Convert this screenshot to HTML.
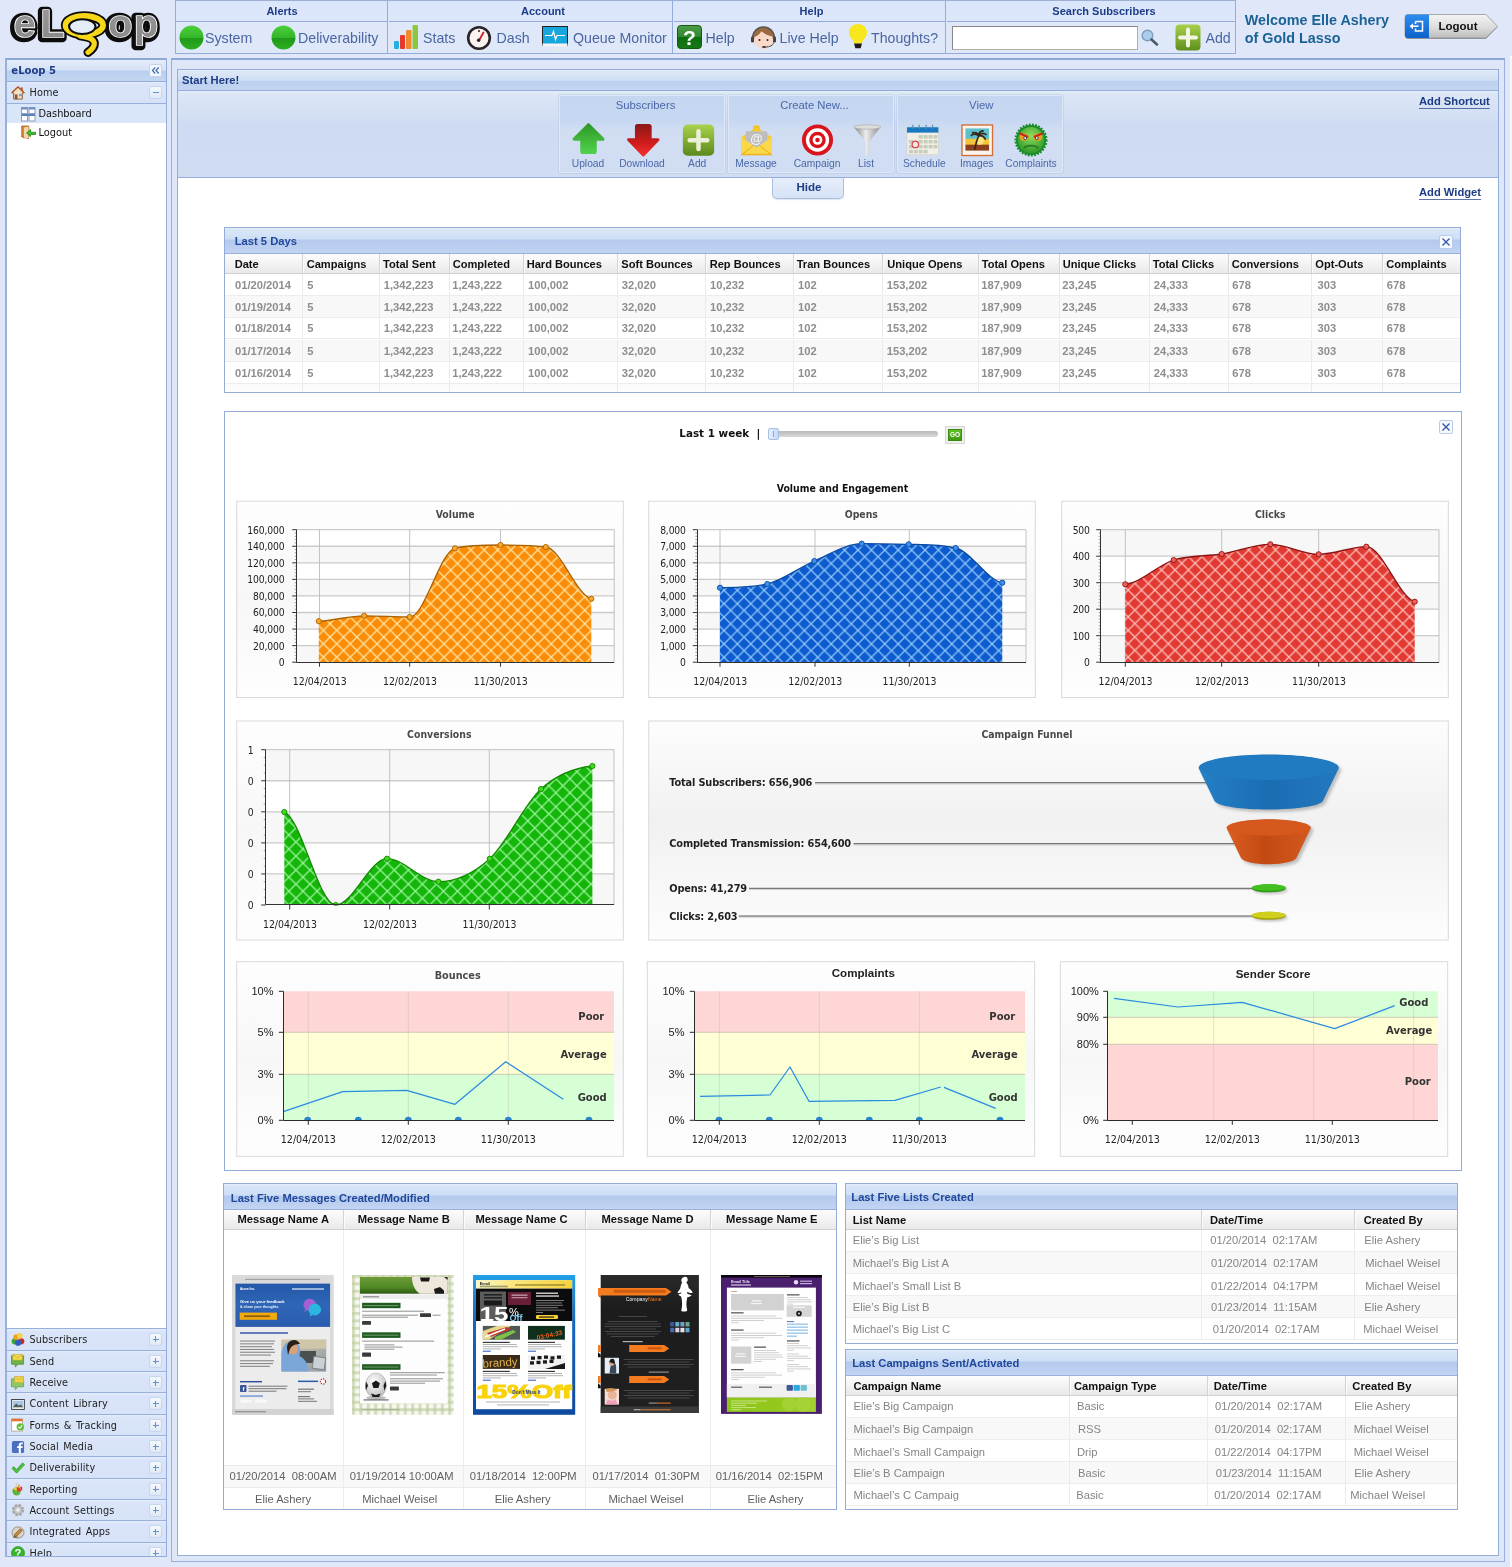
<!DOCTYPE html>
<html lang="en">
<head>
<meta charset="utf-8">
<title>eLoop 5 - Dashboard</title>
<style>
html,body{margin:0;padding:0}
body{width:1512px;height:1567px;overflow:hidden;position:relative;background:#e0e7f8;font-family:"Liberation Sans",sans-serif;font-size:11px;color:#222}
div,span,a,table,td,th,svg{box-sizing:border-box}
.a{position:absolute}
.tah{font-family:"DejaVu Sans Condensed","DejaVu Sans",sans-serif}
.ver{font-family:"DejaVu Sans","Liberation Sans",sans-serif}
svg{display:block;overflow:visible}
svg.a{position:absolute}
/* top menu */
#topmenu{left:175px;top:0;width:1061px;height:54px;background:linear-gradient(#dae6fb 0,#dde7fa 21px,#dfe8f9 22px,#dfe8f8 100%);border:1px solid #94acd9;border-top-color:#9db0d4}
#topmenu .hd{position:absolute;top:0;height:21px;line-height:21px;text-align:center;font-weight:bold;font-size:11px;color:#1d3c85;border-bottom:1px solid #94acd9}
#topmenu .sep{position:absolute;top:0;width:1px;height:52px;background:#94acd9}
.mi{position:absolute;top:27.700px;height:18px;line-height:18px;font-size:14.2px;color:#4b66a2;white-space:nowrap}
/* panels */
.phd{position:absolute;left:0;right:0;top:0;border-bottom:1px solid #93acd9;background:linear-gradient(#eaf1fb 0,#dde8f7 6%,#d0dff4 52%,#bdd0ef 54%,#c3d5f1 100%);font-weight:bold;font-size:11px;color:#1d3c85;white-space:nowrap}
</style>
</head>
<body>
<!-- ================= LOGO ================= -->
<svg class="a" style="left:0;top:0" width="172" height="58" viewBox="0 0 172 58">
  <defs>
    <linearGradient id="lgGrey" x1="0" y1="0" x2="0" y2="1"><stop offset="0" stop-color="#9a9a9a"/><stop offset="1" stop-color="#888"/></linearGradient>
  </defs>
  <g font-family="Liberation Sans, sans-serif" font-weight="bold" font-size="39.500" stroke-linejoin="round">
    <g fill="#0c0c0c" stroke="#0c0c0c" stroke-width="8.600" transform="translate(-1,1.100)">
      <text y="37"><tspan x="13.800">e</tspan><tspan x="40.500">L</tspan><tspan x="77" dy="-7" font-size="18">o</tspan><tspan x="108.300" dy="7">o</tspan><tspan x="134">p</tspan></text>
    </g>
    <g fill="url(#lgGrey)" stroke="#fff" stroke-width="1.700" paint-order="stroke">
      <text y="37"><tspan x="13.800">e</tspan><tspan x="40.500">L</tspan><tspan x="77" dy="-7" font-size="18">o</tspan><tspan x="108.300" dy="7">o</tspan><tspan x="134">p</tspan></text>
    </g>
  </g>
  <g fill="none" stroke-linecap="round" stroke-linejoin="round">
    <path d="M80 35.800C87.500 36.800 94 38.500 94.300 43.200 94.500 47 91.500 50 88 52.300" stroke="#0c0c0c" stroke-width="9.200"/>
    <ellipse cx="84.300" cy="25.300" rx="18.800" ry="9.300" stroke="#0c0c0c" stroke-width="9.400"/>
    <path d="M80 35.800C87.500 36.800 94 38.500 94.300 43.200 94.500 47 91.500 50 88 52.300" stroke="#f7d71a" stroke-width="5.200"/>
    <ellipse cx="84.300" cy="25.300" rx="18.800" ry="9.300" stroke="#f7d71a" stroke-width="5.800"/>
    <ellipse cx="82.300" cy="26.600" rx="13.200" ry="7.300" fill="#e4ebf9" stroke="#0c0c0c" stroke-width="2"/>
  </g>
</svg>

<!-- ================= TOP MENU ================= -->
<div id="topmenu" class="a">
  <div class="hd" style="left:0;width:212px">Alerts</div>
  <div class="hd" style="left:213px;width:284px;padding-left:24px">Account</div>
  <div class="hd" style="left:498px;width:272px;padding-left:3px">Help</div>
  <div class="hd" style="left:771px;width:288px;padding-left:26px">Search Subscribers</div>
  <div class="sep" style="left:211px"></div>
  <div class="sep" style="left:496px"></div>
  <div class="sep" style="left:769px"></div>

  <!-- alerts -->
  <svg class="a" style="left:3px;top:24px" width="25" height="25" viewBox="0 0 25 25"><defs><linearGradient id="gb1" x1="0" y1="0" x2="0" y2="1"><stop offset="0" stop-color="#4bd03c"/><stop offset=".5" stop-color="#35b52a"/><stop offset=".52" stop-color="#1f9a18"/><stop offset="1" stop-color="#2cae22"/></linearGradient></defs><circle cx="12.500" cy="12.500" r="12" fill="url(#gb1)"/></svg>
  <div class="mi" style="left:29px">System</div>
  <svg class="a" style="left:95px;top:24px" width="25" height="25" viewBox="0 0 25 25"><circle cx="12.500" cy="12.500" r="12" fill="url(#gb1)"/></svg>
  <div class="mi" style="left:122px">Deliverability</div>

  <!-- account -->
  <svg class="a" style="left:217px;top:23px" width="26" height="27" viewBox="0 0 26 27">
    <rect x="1" y="17" width="5" height="8" rx="1" fill="#23b1e4"/><rect x="7" y="11" width="5" height="14" rx="1" fill="#e8392f"/><rect x="13" y="6" width="5.500" height="19" rx="1" fill="#f08a2c"/><rect x="19.500" y="1" width="5.500" height="24" rx="1" fill="#8dc63f"/>
  </svg>
  <div class="mi" style="left:247px">Stats</div>
  <svg class="a" style="left:290px;top:24px" width="26" height="26" viewBox="0 0 26 26"><circle cx="13" cy="13" r="10.800" fill="#fbf3f0" stroke="#2a2224" stroke-width="2.600"/><path d="M13 15.500L17.500 7.500" stroke="#d0202a" stroke-width="1.800" stroke-linecap="round"/><circle cx="12.600" cy="15.300" r="1.700" fill="#2a2224"/><circle cx="13" cy="6" r="1" fill="#2a2224"/></svg>
  <div class="mi" style="left:320.500px">Dash</div>
  <svg class="a" style="left:366px;top:25px" width="26" height="25" viewBox="0 0 26 25"><rect x=".5" y=".5" width="25" height="19" fill="#17a7dc" stroke="#222" stroke-width="1"/><rect x=".5" y="17.500" width="25" height="3" fill="#f4f4f4"/><path d="M3 9.500h7l1.500-4 2 8 1.500-4h8" fill="none" stroke="#fff" stroke-width="1.200"/><rect x="9" y="22" width="8" height="1.500" fill="#e9e9e9"/></svg>
  <div class="mi" style="left:397px">Queue Monitor</div>

  <!-- help -->
  <svg class="a" style="left:501px;top:24.300px" width="25" height="24" viewBox="0 0 26 25"><defs><linearGradient id="gh1" x1="0" y1="0" x2="0" y2="1"><stop offset="0" stop-color="#4f9a4b"/><stop offset=".5" stop-color="#2f8a2c"/><stop offset=".52" stop-color="#0f6d10"/><stop offset="1" stop-color="#157a15"/></linearGradient></defs><rect x=".5" y=".5" width="25" height="24" rx="3.500" fill="url(#gh1)" stroke="#0b560c"/><text x="13" y="20.500" text-anchor="middle" font-family="Liberation Sans, sans-serif" font-weight="bold" font-size="22" fill="#fff">?</text></svg>
  <div class="mi" style="left:529.500px">Help</div>
  <svg class="a" style="left:575px;top:25px" width="25" height="24" viewBox="0 0 25 24"><path d="M2 13C1 5 6 .8 12.500.8S24 5 23 13z" fill="#9b6a3e"/><ellipse cx="12.500" cy="14" rx="9.500" ry="9" fill="#fbd9c8"/><path d="M3.500 11c3-1 6-3.500 7-6 2 2.500 7 5 11 5.500C21 5 17 2.500 12.500 2.500S4 5 3.500 11z" fill="#9b6a3e"/><circle cx="8.500" cy="14" r="1" fill="#222"/><circle cx="16.500" cy="14" r="1" fill="#222"/><path d="M1.500 12a11 11 0 0 1 22 0" fill="none" stroke="#555" stroke-width="1.300"/><rect x="0" y="10.500" width="3" height="6" rx="1.300" fill="#444"/><rect x="22" y="10.500" width="3" height="6" rx="1.300" fill="#444"/><path d="M22.500 16.500c0 3-4 4.500-8 4.500" fill="none" stroke="#444" stroke-width="1"/><ellipse cx="13" cy="21" rx="2" ry="1" fill="#333"/></svg>
  <div class="mi" style="left:603.500px">Live Help</div>
  <svg class="a" style="left:672px;top:22px" width="20" height="27" viewBox="0 0 20 27"><path d="M10 1C4.800 1 1 4.800 1 9.500c0 3 1.500 5 3 6.800 1.200 1.500 1.800 2.700 2 4.200h8c.2-1.500.8-2.700 2-4.200 1.500-1.800 3-3.800 3-6.800C19 4.800 15.200 1 10 1z" fill="#f8e71c"/><path d="M6 20.500h8l-1.300 4.800H7.300z" fill="#1c1c1c"/></svg>
  <div class="mi" style="left:695px">Thoughts?</div>

  <!-- search -->
  <div class="a" style="left:776px;top:25px;width:186px;height:24px;background:#fff;border:1px solid #b3aeae;border-top:1.500px solid #8c8686;border-left:1.500px solid #8c8686"></div>
  <svg class="a" style="left:965px;top:28px" width="18" height="17" viewBox="0 0 18 17"><circle cx="6.500" cy="6.500" r="5.300" fill="#a9cdea" stroke="#7f9db8" stroke-width="1.400"/><path d="M10.500 10.500l5.500 5" stroke="#4d5a68" stroke-width="2.600" stroke-linecap="round"/></svg>
  <svg class="a" style="left:999px;top:23px" width="26" height="27" viewBox="0 0 26 27"><defs><linearGradient id="ga1" x1="0" y1="0" x2="0" y2="1"><stop offset="0" stop-color="#a6cf4c"/><stop offset=".5" stop-color="#84b030"/><stop offset="1" stop-color="#5f8e1e"/></linearGradient></defs><rect x=".5" y=".5" width="25" height="26" rx="4" fill="url(#ga1)"/><path d="M13 5.500v16M5 13.500h16" stroke="#f1f6e4" stroke-width="4" stroke-linecap="round"/></svg>
  <div class="mi" style="left:1029.500px">Add</div>
</div>

<!-- welcome / logout -->
<div class="a" style="left:1244.800px;top:11px;width:160px;font-weight:bold;font-size:14.350px;line-height:18.300px;color:#1b6396;white-space:nowrap">Welcome Elle Ashery<br>of Gold Lasso</div>
<svg class="a" style="left:1403px;top:13px" width="98" height="28" viewBox="0 0 98 28">
  <defs>
    <linearGradient id="gl1" x1="0" y1="0" x2="0" y2="1"><stop offset="0" stop-color="#2f8df0"/><stop offset="1" stop-color="#0d62c8"/></linearGradient>
    <linearGradient id="gl2" x1="0" y1="0" x2="0" y2="1"><stop offset="0" stop-color="#f4f4f4"/><stop offset=".55" stop-color="#dcdcdc"/><stop offset="1" stop-color="#bcbcbc"/></linearGradient>
  </defs>
  <path d="M5 2.300h78l11.500 11.800L83 25.800H5a3 3 0 0 1-3-3V5.300a3 3 0 0 1 3-3z" fill="#2a2a2a" opacity=".55"/><path d="M5 1.500h78l11.500 11.800L83 25H5a3 3 0 0 1-3-3V4.500a3 3 0 0 1 3-3z" fill="url(#gl2)" stroke="#8a8a8a" stroke-width=".7"/>
  <path d="M5 1.500h21V25H5a3 3 0 0 1-3-3V4.500a3 3 0 0 1 3-3z" fill="url(#gl1)"/>
  <path d="M12.500 8.500h7v9.500h-7v-2.500M12.500 11V8.500" fill="none" stroke="#fff" stroke-width="1.500"/><path d="M15.500 13.200H9" stroke="#fff" stroke-width="1.600"/><path d="M6.500 13.200l3.500-3v6z" fill="#fff"/>
  <text x="55" y="17.300" text-anchor="middle" font-family="Liberation Sans, sans-serif" font-weight="bold" font-size="11.500" fill="#111">Logout</text>
</svg>
<!-- ================= SIDEBAR ================= -->
<style>
#side{left:5px;top:58px;width:162px;height:1499px;overflow:hidden;background:#fff;border:1px solid #93acd9;border-top:2px solid #8ba8d8;border-left:2px solid #98b0dc}
#side .row{position:absolute;left:0;right:0;height:22.300px;background:linear-gradient(#e6eefb 0,#dae5f9 2px,#d6e2f7 100%);border-top:1px solid #98b0dc;border-bottom:0;font-size:10.800px;color:#1d1d1d;white-space:nowrap}
#side .row span{position:absolute;left:22.500px;top:1px;line-height:20px;letter-spacing:.1px;word-spacing:1.200px}
#side .tool{position:absolute;right:4px;top:4px;width:13px;height:13px;border:1px solid #c6d6ee;border-radius:2px;background:linear-gradient(#f4f8fd,#dfe9f8)}
#side .tool:before{content:"";position:absolute;left:2.500px;top:5px;width:6px;height:1px;background:#6d8fc8}
#side .tool.plus:after{content:"";position:absolute;left:5px;top:2.500px;width:1px;height:6px;background:#6d8fc8}
#side .row svg{position:absolute;left:4px;top:3.500px;width:14px;height:14px}
#side .leaf{position:absolute;left:0;right:0;height:19.500px;font-size:10.900px;color:#111;white-space:nowrap}
#side .leaf span{position:absolute;left:31.500px;top:.3px;line-height:19px;letter-spacing:0}
#side .leaf svg{position:absolute;left:14px;top:2.500px}
</style>
<div id="side" class="a tah">
  <div class="phd" style="height:22px;border-bottom:1px solid #93acd9;background:linear-gradient(#e3ecf9 0,#d6e3f6 48%,#b9cfee 52%,#c3d6f1 100%)"><span class="a" style="left:4.300px;top:4.200px;line-height:14px;font-size:11.200px">eLoop 5</span>
    <div class="a" style="right:4px;top:4px;width:13px;height:13px;border:1px solid #c2d3ee;border-radius:2px;background:#f3f7fd"><svg width="11" height="11" viewBox="0 0 11 11"><path d="M5.200 2.500L2.500 5.500l2.700 3M8.700 2.500L6 5.500l2.700 3" fill="none" stroke="#3f6db5" stroke-width="1.200"/></svg></div>
  </div>
  <div class="row" style="top:22px;border-top:0;height:22px;border-bottom:1px solid #98b0dc"><svg width="15" height="15" viewBox="0 0 15 15"><path d="M7.500 1L.8 7.300h2V14h9.400V7.300h2z" fill="#f3e1c4" stroke="#8a5a2b" stroke-width="1"/><path d="M.8 7.300L7.500 1l6.700 6.300" fill="none" stroke="#b5532a" stroke-width="1.600"/><rect x="4" y="9" width="3" height="5" fill="#8a5a2b"/><rect x="8.500" y="8.500" width="3" height="2.500" fill="#7a9fd0"/><rect x="10.500" y="1.500" width="2" height="3.500" fill="#b5532a"/></svg><span style="left:22.500px;top:1.300px">Home</span><div class="tool"></div></div>
  <div class="leaf" style="top:44px;height:18.800px;background:#d9e5f8"><svg width="15" height="15" viewBox="0 0 15 15"><rect x=".5" y=".5" width="6" height="6" fill="#fff" stroke="#8d9dbd"/><rect x="8" y=".5" width="6" height="6" fill="#fff" stroke="#8d9dbd"/><rect x=".5" y="8" width="6" height="6" fill="#fff" stroke="#8d9dbd"/><rect x="8" y="8" width="6" height="6" fill="#fff" stroke="#8d9dbd"/><rect x=".5" y=".5" width="6" height="2" fill="#6d8fc6"/><rect x="8" y=".5" width="6" height="2" fill="#6d8fc6"/><rect x=".5" y="7" width="13.500" height="2" fill="#5b84b8"/></svg><span>Dashboard</span></div>
  <div class="leaf" style="top:62.300px"><svg width="15" height="15" viewBox="0 0 15 15"><path d="M.8 1h7v12.500l-7-1.500z" fill="#d98a3a" stroke="#9a5a1e" stroke-width=".8"/><path d="M3 2.500l4.500-1v12l-4.500-1z" fill="#f5d6a8"/><path d="M14.500 7.300H9.500V4.500L5.500 8l4 3.500V9.500h5z" fill="#3fbf2f" stroke="#1f8a17" stroke-width=".8"/></svg><span>Logout</span></div>

  <!-- accordion -->
  <div class="row" style="top:1267.900px"><svg width="15" height="15" viewBox="0 0 15 15"><circle cx="4" cy="10" r="3.300" fill="#3aa33a"/><circle cx="11" cy="10" r="3.300" fill="#c92a2a"/><circle cx="7.500" cy="11.500" r="3.300" fill="#2b5fc0"/><circle cx="5.500" cy="5.500" r="3" fill="#f0a020"/><circle cx="9.500" cy="4" r="3" fill="#f6d445"/></svg><span>Subscribers</span><div class="tool plus"></div></div>
  <div class="row" style="top:1289.800px"><svg width="15" height="15" viewBox="0 0 15 15"><path d="M.5 2h13v9h-6l-3 3v-3h-4z" fill="#6cb24a" stroke="#4f8f34" stroke-width=".8"/><rect x="2" y=".5" width="10" height="6" fill="#f4d94a" stroke="#c9a82a" stroke-width=".6"/><path d="M2 .5l5 3.800 5-3.800" fill="none" stroke="#c9a82a" stroke-width=".7"/></svg><span>Send</span><div class="tool plus"></div></div>
  <div class="row" style="top:1311.100px"><svg width="15" height="15" viewBox="0 0 15 15"><path d="M.5 3h13v8.500h-6l-3 3v-3h-4z" fill="#8dc86a" stroke="#5fa040" stroke-width=".8"/><rect x="4" y=".5" width="9.500" height="6.500" fill="#f3d648" stroke="#c9a82a" stroke-width=".6"/><path d="M4 .5l4.800 3.800 4.700-3.800" fill="none" stroke="#c9a82a" stroke-width=".7"/></svg><span>Receive</span><div class="tool plus"></div></div>
  <div class="row" style="top:1332.400px"><svg width="15" height="15" viewBox="0 0 15 15"><rect x=".7" y="2.700" width="13.600" height="10.600" fill="#f4f7fa" stroke="#3a3a3a" stroke-width="1"/><rect x="2" y="4" width="11" height="7" fill="#a9c6e6"/><path d="M2 11l3.500-4 3 2.500 2-1.500 2.500 3z" fill="#4f5f55"/></svg><span>Content Library</span><div class="tool plus"></div></div>
  <div class="row" style="top:1353.700px"><svg width="15" height="15" viewBox="0 0 15 15"><rect x=".7" y="1" width="11.500" height="13" fill="#fff" stroke="#b9a08a" stroke-width=".9"/><rect x=".7" y="1" width="11.500" height="2.500" fill="#e8702a"/><circle cx="10" cy="9.500" r="4" fill="#5fbf3a"/><path d="M8 9.500l1.500 1.500 2.500-3" fill="none" stroke="#fff" stroke-width="1.200"/></svg><span>Forms &amp; Tracking</span><div class="tool plus"></div></div>
  <div class="row" style="top:1375px"><svg width="15" height="15" viewBox="0 0 15 15"><rect x="1" y="1" width="13" height="13" rx="2" fill="#4a6fc2"/><path d="M10.500 14V8.700h1.800l.3-2h-2.100V5.500c0-.7.300-1 1-1h1.100V2.700c-.3 0-.9-.1-1.600-.1-1.700 0-2.700 1-2.700 2.700v1.400H6.500v2h1.800V14z" fill="#fff"/></svg><span>Social Media</span><div class="tool plus"></div></div>
  <div class="row" style="top:1396.300px"><svg width="15" height="15" viewBox="0 0 15 15"><path d="M1 8l2-2 3 3 6.500-7 2 2L6 13z" fill="#4cc23c" stroke="#2a8f20" stroke-width=".7"/></svg><span>Deliverability</span><div class="tool plus"></div></div>
  <div class="row" style="top:1417.600px"><svg width="15" height="15" viewBox="0 0 15 15"><rect x="5" y="1" width="2" height="8" fill="#d0d0d0"/><rect x="7.500" y="3" width="2" height="6" fill="#f0a020"/><rect x="10" y="5" width="2" height="4" fill="#d33"/><circle cx="6" cy="10" r="4.500" fill="#5fb23a"/><path d="M6 10V5.500A4.500 4.500 0 0 1 10.500 10z" fill="#e8382a"/><path d="M6 10V5.500A4.500 4.500 0 0 0 2.500 7.300z" fill="#f4cf3a"/></svg><span>Reporting</span><div class="tool plus"></div></div>
  <div class="row" style="top:1438.900px"><svg width="15" height="15" viewBox="0 0 15 15"><circle cx="7.500" cy="7.500" r="5" fill="none" stroke="#a9a9a9" stroke-width="3.200" stroke-dasharray="2.600 1.300"/><circle cx="7.500" cy="7.500" r="4.300" fill="#c9c9c9" stroke="#9a9a9a" stroke-width=".8"/><circle cx="7.500" cy="7.500" r="1.800" fill="#eef2f8"/></svg><span>Account Settings</span><div class="tool plus"></div></div>
  <div class="row" style="top:1460.200px"><svg width="15" height="15" viewBox="0 0 15 15"><ellipse cx="7.500" cy="8" rx="6.500" ry="6" fill="#d9d2c6" stroke="#8a7f70" stroke-width=".8"/><path d="M4 10l6-6 2 2-6 6-2.500.5z" fill="#c98a3a" stroke="#6a4a20" stroke-width=".7"/><path d="M2 13h5" stroke="#6a4a20"/></svg><span>Integrated Apps</span><div class="tool plus"></div></div>
  <div class="row" style="top:1481.500px;height:17px;border-bottom:0"><svg width="15" height="15" viewBox="0 0 15 15"><circle cx="7.500" cy="7.500" r="7" fill="#35b52a" stroke="#1f8a17" stroke-width=".6"/><text x="7.500" y="12" text-anchor="middle" font-family="Liberation Sans, sans-serif" font-weight="bold" font-size="12" fill="#fff">?</text></svg><span>Help</span><div class="tool plus"></div></div>
</div>
<!-- ================= MAIN PANEL ================= -->
<style>
#outer{left:171px;top:58px;width:1334px;height:1504px;border:1px solid #98b0dc;border-top:2px solid #8ba8d8;background:#dde7f8}
#inner{left:177px;top:69px;width:1322px;height:1487px;border:1px solid #93acd9;background:#fff}
#sc{left:0;top:21px;width:1320px;height:87px;border-bottom:1px solid #93acd9;background:linear-gradient(#e3ecf9 0,#dbe6f6 4%,#d3dff3 30%,#cedbf2 38%,#cfdcf2 100%)}
.grp{position:absolute;top:4px;height:78px;border:1px solid #dfe8f6;border-radius:2px;background:linear-gradient(#c4d6f0 0,#c6d7f1 30%,#d0ddf3 45%,#d0ddf3 100%);box-shadow:0 0 0 1px rgba(170,190,225,.35)}
.grp .t{position:absolute;left:0;right:0;top:2.200px;padding-left:5px;text-align:center;font-size:11.300px;line-height:14px;color:#4a67a8}
.grp .l{position:absolute;top:61.500px;font-size:10.250px;line-height:12px;color:#4a67a8;white-space:nowrap;transform:translateX(-50%)}
.grp svg{position:absolute}
.lnk{font-weight:bold;font-size:11.200px;color:#1d3c85;text-decoration:underline;text-decoration-thickness:1px;text-decoration-color:rgba(29,60,133,.7);text-underline-offset:2.500px;white-space:nowrap;line-height:13px}
</style>
<div class="a" style="left:1510px;top:56px;width:2px;height:1511px;background:#f4f7fc"></div>
<div id="outer" class="a"></div>
<div id="inner" class="a">
  <div class="phd" style="height:21px"><span class="a" style="left:4px;top:4px;line-height:13px;font-size:11.200px">Start Here!</span></div>
  <div id="sc" class="a">
    <div class="a lnk" style="left:1241px;top:4px">Add Shortcut</div>
    <!-- Subscribers group -->
    <div class="grp" style="left:381px;width:166px">
      <div class="t" style="padding-left:7px">Subscribers</div>
      <svg style="left:11.300px;top:25.800px" width="35" height="33.300" viewBox="0 0 34 32"><defs><linearGradient id="gup" x1="0" y1="0" x2="0" y2="1"><stop offset="0" stop-color="#2f9a2a"/><stop offset="1" stop-color="#4fd04a"/></linearGradient></defs><path d="M17 2.500L3 16.500h7.500V28.500a1 1 0 0 0 1 1h11a1 1 0 0 0 1-1V16.500H31z" fill="url(#gup)" stroke="url(#gup)" stroke-width="3" stroke-linejoin="round"/></svg>
      <div class="l" style="left:28px">Upload</div>
      <svg style="left:64.800px;top:26.800px" width="36.600" height="34.500" viewBox="0 0 34 33"><defs><linearGradient id="gdn" x1="0" y1="0" x2="0" y2="1"><stop offset="0" stop-color="#8f1818"/><stop offset=".6" stop-color="#d01c1c"/><stop offset="1" stop-color="#f03030"/></linearGradient></defs><path d="M17 30.500L3 16h7.500V3.500a1 1 0 0 1 1-1h11a1 1 0 0 1 1 1V16H31z" fill="url(#gdn)" stroke="url(#gdn)" stroke-width="3" stroke-linejoin="round"/></svg>
      <div class="l" style="left:82px">Download</div>
      <svg style="left:121.500px;top:27.800px" width="33" height="32.300" viewBox="0 0 33 33"><defs><linearGradient id="gad" x1="0" y1="0" x2="0" y2="1"><stop offset="0" stop-color="#a9d24e"/><stop offset=".55" stop-color="#7fa92f"/><stop offset="1" stop-color="#5a8a1e"/></linearGradient></defs><rect x=".5" y=".5" width="32" height="32" rx="5" fill="url(#gad)"/><path d="M16.500 7.500v18M7.500 16.500h18" stroke="#e9f0d6" stroke-width="4.600" stroke-linecap="round"/></svg>
      <div class="l" style="left:137.200px">Add</div>
    </div>
    <!-- Create New group -->
    <div class="grp" style="left:550px;width:166px">
      <div class="t" style="padding-left:7px">Create New...</div>
      <svg style="left:10.500px;top:27.500px" width="33" height="32.500" viewBox="0 1 34 32"><circle cx="17" cy="5" r="3.500" fill="#f4c21a"/><path d="M1.500 14L17 3l15.500 11v18h-31z" fill="#f6c92e"/><path d="M6 8h22v16H6z" fill="#c9c9c9"/><path d="M6 8h22v9L17 24 6 17z" fill="#bdbdbd"/><text x="17" y="19.500" text-anchor="middle" font-family="Liberation Sans, sans-serif" font-weight="bold" font-size="13" fill="#f4f4f4">@</text><path d="M1.500 14L17 25l15.500-11v18h-31z" fill="#fbd84a"/><path d="M1.500 32L14 22.500M32.500 32L20 22.500" stroke="#e8a91a" stroke-width="1"/><path d="M1.500 31h31v1.500h-31z" fill="#f2b01e"/></svg>
      <div class="l" style="left:27px">Message</div>
      <svg style="left:71.500px;top:27.500px" width="33" height="33" viewBox="0 0 34 34"><circle cx="17" cy="16.500" r="16" fill="#d9141c"/><circle cx="17" cy="16.500" r="12" fill="#fff"/><circle cx="17" cy="16.500" r="8.500" fill="#d9141c"/><circle cx="17" cy="16.500" r="5" fill="#fff"/><circle cx="17" cy="16.500" r="2.300" fill="#d9141c"/></svg>
      <div class="l" style="left:88px">Campaign</div>
      <svg style="left:124px;top:28.300px" width="28.500" height="32" viewBox="0 0 30 33"><defs><linearGradient id="gfn" x1="0" y1="0" x2="1" y2="0"><stop offset="0" stop-color="#808080"/><stop offset=".45" stop-color="#ededed"/><stop offset="1" stop-color="#8a8a8a"/></linearGradient></defs><path d="M.8 2.500h28.400L17 18.500v12.500l-4 1.500V18.500z" fill="url(#gfn)"/><ellipse cx="15" cy="2.800" rx="14.200" ry="2.300" fill="#dedede" stroke="#b0b0b0" stroke-width=".8"/></svg>
      <div class="l" style="left:137px">List</div>
    </div>
    <!-- View group -->
    <div class="grp" style="left:719px;width:166px">
      <div class="t" style="padding-left:2.500px">View</div>
      <svg style="left:8.300px;top:27.500px" width="33.400" height="32" viewBox="0 1 34 32"><rect x="1" y="4" width="32" height="28" rx="1.500" fill="#f2efe8" stroke="#d8d4ca" stroke-width=".8"/><rect x="1" y="4" width="32" height="5.500" fill="#1878c0"/><path d="M7 1.500v4M13.500 1.500v4M20.500 1.500v4M27 1.500v4" stroke="#5a8fbf" stroke-width="1.200"/><g fill="#c6cdb8"><rect x="13" y="12" width="4" height="3.500"/><rect x="18" y="12" width="4" height="3.500"/><rect x="23" y="12" width="4" height="3.500"/><rect x="28" y="12" width="4" height="3.500"/><rect x="3" y="17" width="4" height="3.500"/><rect x="13" y="17" width="4" height="3.500"/><rect x="18" y="17" width="4" height="3.500"/><rect x="23" y="17" width="4" height="3.500"/><rect x="28" y="17" width="4" height="3.500"/><rect x="3" y="22" width="4" height="3.500"/><rect x="13" y="22" width="4" height="3.500"/><rect x="18" y="22" width="4" height="3.500"/><rect x="23" y="22" width="4" height="3.500"/><rect x="28" y="22" width="4" height="3.500"/><rect x="3" y="27" width="4" height="3.500"/><rect x="8" y="27" width="4" height="3.500"/><rect x="13" y="27" width="4" height="3.500"/><rect x="18" y="27" width="4" height="3.500"/></g><circle cx="9.500" cy="21.500" r="3.300" fill="#f7e6e2" stroke="#d0454a" stroke-width="1.300"/></svg>
      <div class="l" style="left:26.300px">Schedule</div>
      <svg style="left:62.500px;top:27.800px" width="32.500" height="32.500" viewBox="0 0 33 33"><rect x="1" y="1" width="31" height="31" fill="#fbf4ec" stroke="#d2703a" stroke-width="1.400"/><rect x="4.500" y="4.500" width="24" height="11" fill="#5ec0cf"/><rect x="4.500" y="15" width="24" height="7" fill="#f4c43a"/><rect x="4.500" y="21" width="24" height="6" fill="#8a3f1e"/><circle cx="19" cy="17" r="4" fill="#fbe27a"/><path d="M14 26c1-6 2-10 4-14M18 12c-3-2-6-2-8 0M18 12c-1-3-4-4-7-3M18 12c2-3 5-3 8-1M18 12c3-1 6 1 7 4M18 12c0-3 2-5 5-5" fill="none" stroke="#3a2414" stroke-width="1.700"/></svg>
      <div class="l" style="left:78.700px">Images</div>
      <svg style="left:115.500px;top:26.700px" width="34" height="34" viewBox="0 0 35 35"><defs><radialGradient id="gcm" cx=".5" cy=".35" r=".65"><stop offset="0" stop-color="#8fdc5a"/><stop offset="1" stop-color="#2f9a2a"/></radialGradient></defs><circle cx="17.500" cy="17.500" r="15.500" fill="#1f8f2a" stroke="#1a8a2a" stroke-width="3" stroke-dasharray="1.800 1.400"/><circle cx="17.500" cy="17.500" r="13.500" fill="url(#gcm)"/><ellipse cx="10.500" cy="14.500" rx="4.500" ry="3.800" fill="#f2a020"/><ellipse cx="24.500" cy="14.500" rx="4.500" ry="3.800" fill="#f2a020"/><path d="M5.500 10.500l9 4M29.500 10.500l-9 4" stroke="#c9281e" stroke-width="2.200"/><circle cx="11.500" cy="15.500" r="1.500" fill="#fff" stroke="#222" stroke-width=".8"/><circle cx="23.500" cy="15.500" r="1.500" fill="#fff" stroke="#222" stroke-width=".8"/><path d="M10 26c3-3.500 12-3.500 15 0" fill="none" stroke="#2a7a22" stroke-width="1.800"/></svg>
      <div class="l" style="left:133px">Complaints</div>
    </div>
  </div>
  <!-- hide tab / add widget -->
  <div class="a" style="left:594px;top:108px;width:72px;height:21px;border:1px solid #a9bfe4;border-top:0;border-radius:0 0 5px 5px;background:linear-gradient(#e6eefa,#d6e2f6);text-align:center;padding-left:2px;font-weight:bold;font-size:11.600px;line-height:18.500px;color:#1d3c85;box-shadow:0 1px 1px rgba(120,140,180,.25)">Hide</div>
  <div class="a lnk" style="left:1241px;top:115.500px">Add Widget</div>
<!-- ================= LAST 5 DAYS ================= -->
<style>
.wg{position:absolute;border:1px solid #93acd9;background:#fff;overflow:hidden}
.wg .phd{background:linear-gradient(#e4edfa 0,#d9e6f8 8%,#cddef5 44%,#b4caee 48%,#bccff0 80%,#c3d5f2 100%);color:#20489a;border-bottom:1px solid #98b0dc}
.gh{position:absolute;left:0;right:0;height:20.500px;background:linear-gradient(#fdfdfd 0,#f4f4f4 45%,#e9e9e9 100%);border-bottom:1px solid #d0d0d0}
.gh b{position:absolute;top:0;line-height:20.500px;font-size:11.100px;color:#111;white-space:nowrap}
.gh i,.gr i{position:absolute;top:0;bottom:0;width:1px;background:#ebebeb}
.gh i{background:#d4d4d4;box-shadow:1px 0 0 #fbfbfb}
.gr{position:absolute;left:0;right:0;border-bottom:1px solid #ededed;background:#fff}
.gr.alt{background:#f8f8f8}
.gr span{position:absolute;top:.8px;font-size:11.200px;color:#838383;white-space:nowrap}
.gr.b5 span{font-weight:bold;color:#8e8e8e}
.xbtn{position:absolute;width:14px;height:14px;border:1px solid #b9cbea;border-radius:2px;background:#f6f9fe}
</style>
<div class="wg" style="left:46.2px;top:157px;width:1237px;height:166.2px">
<div class="phd" style="height:25.6px"><span class="a" style="left:9.5px;top:6.2px;line-height:14px;font-size:11.200px">Last 5 Days</span>
<div class="xbtn" style="left:1214.3px;top:6.5px"><svg width="12" height="12" viewBox="0 0 12 12"><path d="M2.500 2.500l7 7M9.500 2.500l-7 7" stroke="#2f55a4" stroke-width="1.300"/></svg></div></div>
<div class="gh" style="top:25.6px">
<b style="left:9.5px">Date</b>
<i style="left:77px"></i>
<b style="left:81.5px">Campaigns</b>
<i style="left:154px"></i>
<b style="left:157.8px">Total Sent</b>
<i style="left:224px"></i>
<b style="left:227.5px">Completed</b>
<i style="left:298.1px"></i>
<b style="left:301.5px">Hard Bounces</b>
<i style="left:392.1px"></i>
<b style="left:396.1px">Soft Bounces</b>
<i style="left:480.1px"></i>
<b style="left:484.5px">Rep Bounces</b>
<i style="left:568.1px"></i>
<b style="left:571.5px">Tran Bounces</b>
<i style="left:657.1px"></i>
<b style="left:662.1px">Unique Opens</b>
<i style="left:752.8px"></i>
<b style="left:756.5px">Total Opens</b>
<i style="left:833.8px"></i>
<b style="left:837.5px">Unique Clicks</b>
<i style="left:924.1px"></i>
<b style="left:927.5px">Total Clicks</b>
<i style="left:1003.1px"></i>
<b style="left:1006.5px">Conversions</b>
<i style="left:1086.1px"></i>
<b style="left:1090.1px">Opt-Outs</b>
<i style="left:1157.3px"></i>
<b style="left:1161px">Complaints</b>
</div>
<div class="gr b5" style="top:45.9px;height:21.7px;line-height:21.7px">
<span style="left:9.8px">01/20/2014</span>
<i style="left:77px"></i>
<span style="left:82px">5</span>
<i style="left:154px"></i>
<span style="left:158.5px">1,342,223</span>
<i style="left:224px"></i>
<span style="left:227.1px">1,243,222</span>
<i style="left:298.1px"></i>
<span style="left:302.8px">100,002</span>
<i style="left:392.1px"></i>
<span style="left:396.5px">32,020</span>
<i style="left:480.1px"></i>
<span style="left:484.8px">10,232</span>
<i style="left:568.1px"></i>
<span style="left:572.8px">102</span>
<i style="left:657.1px"></i>
<span style="left:661.5px">153,202</span>
<i style="left:752.8px"></i>
<span style="left:756.1px">187,909</span>
<i style="left:833.8px"></i>
<span style="left:837.1px">23,245</span>
<i style="left:924.1px"></i>
<span style="left:928.5px">24,333</span>
<i style="left:1003.1px"></i>
<span style="left:1007px">678</span>
<i style="left:1086.1px"></i>
<span style="left:1092.3px">303</span>
<i style="left:1157.3px"></i>
<span style="left:1161.5px">678</span>
</div>
<div class="gr b5 alt" style="top:67.6px;height:22px;line-height:22px">
<span style="left:9.8px">01/19/2014</span>
<i style="left:77px"></i>
<span style="left:82px">5</span>
<i style="left:154px"></i>
<span style="left:158.5px">1,342,223</span>
<i style="left:224px"></i>
<span style="left:227.1px">1,243,222</span>
<i style="left:298.1px"></i>
<span style="left:302.8px">100,002</span>
<i style="left:392.1px"></i>
<span style="left:396.5px">32,020</span>
<i style="left:480.1px"></i>
<span style="left:484.8px">10,232</span>
<i style="left:568.1px"></i>
<span style="left:572.8px">102</span>
<i style="left:657.1px"></i>
<span style="left:661.5px">153,202</span>
<i style="left:752.8px"></i>
<span style="left:756.1px">187,909</span>
<i style="left:833.8px"></i>
<span style="left:837.1px">23,245</span>
<i style="left:924.1px"></i>
<span style="left:928.5px">24,333</span>
<i style="left:1003.1px"></i>
<span style="left:1007px">678</span>
<i style="left:1086.1px"></i>
<span style="left:1092.3px">303</span>
<i style="left:1157.3px"></i>
<span style="left:1161.5px">678</span>
</div>
<div class="gr b5" style="top:89.6px;height:21.9px;line-height:21.9px">
<span style="left:9.8px">01/18/2014</span>
<i style="left:77px"></i>
<span style="left:82px">5</span>
<i style="left:154px"></i>
<span style="left:158.5px">1,342,223</span>
<i style="left:224px"></i>
<span style="left:227.1px">1,243,222</span>
<i style="left:298.1px"></i>
<span style="left:302.8px">100,002</span>
<i style="left:392.1px"></i>
<span style="left:396.5px">32,020</span>
<i style="left:480.1px"></i>
<span style="left:484.8px">10,232</span>
<i style="left:568.1px"></i>
<span style="left:572.8px">102</span>
<i style="left:657.1px"></i>
<span style="left:661.5px">153,202</span>
<i style="left:752.8px"></i>
<span style="left:756.1px">187,909</span>
<i style="left:833.8px"></i>
<span style="left:837.1px">23,245</span>
<i style="left:924.1px"></i>
<span style="left:928.5px">24,333</span>
<i style="left:1003.1px"></i>
<span style="left:1007px">678</span>
<i style="left:1086.1px"></i>
<span style="left:1092.3px">303</span>
<i style="left:1157.3px"></i>
<span style="left:1161.5px">678</span>
</div>
<div class="gr b5 alt" style="top:111.5px;height:22.1px;line-height:22.1px">
<span style="left:9.8px">01/17/2014</span>
<i style="left:77px"></i>
<span style="left:82px">5</span>
<i style="left:154px"></i>
<span style="left:158.5px">1,342,223</span>
<i style="left:224px"></i>
<span style="left:227.1px">1,243,222</span>
<i style="left:298.1px"></i>
<span style="left:302.8px">100,002</span>
<i style="left:392.1px"></i>
<span style="left:396.5px">32,020</span>
<i style="left:480.1px"></i>
<span style="left:484.8px">10,232</span>
<i style="left:568.1px"></i>
<span style="left:572.8px">102</span>
<i style="left:657.1px"></i>
<span style="left:661.5px">153,202</span>
<i style="left:752.8px"></i>
<span style="left:756.1px">187,909</span>
<i style="left:833.8px"></i>
<span style="left:837.1px">23,245</span>
<i style="left:924.1px"></i>
<span style="left:928.5px">24,333</span>
<i style="left:1003.1px"></i>
<span style="left:1007px">678</span>
<i style="left:1086.1px"></i>
<span style="left:1092.3px">303</span>
<i style="left:1157.3px"></i>
<span style="left:1161.5px">678</span>
</div>
<div class="gr b5" style="top:133.6px;height:22px;line-height:22px">
<span style="left:9.8px">01/16/2014</span>
<i style="left:77px"></i>
<span style="left:82px">5</span>
<i style="left:154px"></i>
<span style="left:158.5px">1,342,223</span>
<i style="left:224px"></i>
<span style="left:227.1px">1,243,222</span>
<i style="left:298.1px"></i>
<span style="left:302.8px">100,002</span>
<i style="left:392.1px"></i>
<span style="left:396.5px">32,020</span>
<i style="left:480.1px"></i>
<span style="left:484.8px">10,232</span>
<i style="left:568.1px"></i>
<span style="left:572.8px">102</span>
<i style="left:657.1px"></i>
<span style="left:661.5px">153,202</span>
<i style="left:752.8px"></i>
<span style="left:756.1px">187,909</span>
<i style="left:833.8px"></i>
<span style="left:837.1px">23,245</span>
<i style="left:924.1px"></i>
<span style="left:928.5px">24,333</span>
<i style="left:1003.1px"></i>
<span style="left:1007px">678</span>
<i style="left:1086.1px"></i>
<span style="left:1092.3px">303</span>
<i style="left:1157.3px"></i>
<span style="left:1161.5px">678</span>
</div>
<div class="gr" style="top:155.6px;height:10px;border-bottom:0;background:linear-gradient(#f9f9f9,#fff)">
<i style="left:77px"></i>
<i style="left:154px"></i>
<i style="left:224px"></i>
<i style="left:298.1px"></i>
<i style="left:392.1px"></i>
<i style="left:480.1px"></i>
<i style="left:568.1px"></i>
<i style="left:657.1px"></i>
<i style="left:752.8px"></i>
<i style="left:833.8px"></i>
<i style="left:924.1px"></i>
<i style="left:1003.1px"></i>
<i style="left:1086.1px"></i>
<i style="left:1157.3px"></i>
</div>
</div>
<!-- ================= CHARTS WIDGET ================= -->
<div class="wg" style="left:46.3px;top:341.3px;width:1237.7px;height:759.4px;overflow:visible"></div>
<svg width="0" height="0" class="a"><defs><linearGradient id="cbg" x1="0" y1="0" x2="0" y2="1"><stop offset="0" stop-color="#fefefe"/><stop offset=".5" stop-color="#f7f7f7"/><stop offset="1" stop-color="#fefefe"/></linearGradient></defs></svg>
<div class="a ver" style="left:501.3px;top:357px;font-weight:bold;font-size:10.400px;line-height:13px;color:#111;white-space:pre">Last 1 week  |</div>
<div class="a" style="left:590.3px;top:360.8px;width:170px;height:6px;border-radius:3px;background:linear-gradient(#b9b9b9,#d8d8d8);"></div>
<div class="a" style="left:589.5px;top:357.5px;width:11.500px;height:12px;border:1px solid #a9c0e6;border-radius:2px;background:linear-gradient(90deg,#e6effb,#c6d9f5)"><div style="margin:2px 0 0 4.500px;width:1px;height:6px;background:#8fa9d6"></div></div>
<div class="a" style="left:767px;top:355.5px;width:20px;height:18px;border:1px solid #d6d6d6;background:#eee;padding:2px"><div style="width:14px;height:12px;background:linear-gradient(#5cc425,#3e9a10);border:1px solid #3a8a10;color:#fff;font-weight:bold;font-size:6.500px;line-height:10px;text-align:center">GO</div></div>
<div class="xbtn" style="left:1260.5px;top:350px"><svg width="12" height="12" viewBox="0 0 12 12"><path d="M2.500 2.500l7 7M9.500 2.500l-7 7" stroke="#2f55a4" stroke-width="1.300"/></svg></div>
<div class="a tah" style="left:564.5px;top:412px;width:200px;text-align:center;font-weight:bold;font-size:10.400px;line-height:13px;color:#111;white-space:nowrap">Volume and Engagement</div>
<svg class="a" style="left:57px;top:430px" width="391" height="200" viewBox="235 500 391 200" >
<defs><pattern id="hv" width="13.4" height="13.4" patternUnits="userSpaceOnUse" x="484.2" y="563.4"><rect width="13.4" height="13.4" fill="#fb8c08"/><path d="M-1 -1L14.4 14.4" stroke="#fff3b8" stroke-opacity="0.8" stroke-width="1.400" fill="none"/><path d="M-1 14.4L14.4 -1" stroke="#fff3b8" stroke-opacity="0.8" stroke-width="1.400" fill="none"/></pattern><clipPath id="kv"><rect x="290.7" y="523.7" width="329.5" height="138.5"/></clipPath></defs>
<rect x="236.7" y="501.2" width="386.6" height="196.3" fill="url(#cbg)" stroke="#d9d9d9" stroke-width="1"/>
<text x="455.2" y="517.9" text-anchor="middle" font-family="DejaVu Sans Condensed, DejaVu Sans, sans-serif" font-weight="bold" font-size="10.400" fill="#4a4a4a">Volume</text>
<rect x="296.7" y="529.7" width="317.5" height="132.5" fill="#fff"/>
<rect x="296.7" y="645.64" width="317.5" height="16.56" fill="#f7f7f7"/>
<rect x="296.7" y="612.51" width="317.5" height="16.56" fill="#f7f7f7"/>
<rect x="296.7" y="579.39" width="317.5" height="16.56" fill="#f7f7f7"/>
<rect x="296.7" y="546.26" width="317.5" height="16.56" fill="#f7f7f7"/>
<path d="M296.7 529.7H614.2M296.7 546.26H614.2M296.7 562.83H614.2M296.7 579.39H614.2M296.7 595.95H614.2M296.7 612.51H614.2M296.7 629.08H614.2M296.7 645.64H614.2" stroke="#cbcbcb" stroke-width="1.300" fill="none"/>
<path d="M319.5 529.7V662.2M409.7 529.7V662.2M500.5 529.7V662.2M614.2 529.7V662.2" stroke="#bcbcbc" stroke-width=".9" fill="none"/>
<path d="M318.8 621.2C333.93 620.84 349.07 615.8 364.2 615.8C379.37 615.8 394.53 617 409.7 617C424.8 617 439.9 551.59 455 548.3C470.17 545 485.33 545 500.5 545C515.6 545 530.7 545 545.8 547C560.97 549.01 576.13 594.48 591.3 598.8L591.3 662.2L318.8 662.2Z" fill="url(#hv)"/>
<path d="M318.8 621.2C333.93 620.84 349.07 615.8 364.2 615.8C379.37 615.8 394.53 617 409.7 617C424.8 617 439.9 551.59 455 548.3C470.17 545 485.33 545 500.5 545C515.6 545 530.7 545 545.8 547C560.97 549.01 576.13 594.48 591.3 598.8" fill="none" stroke="#a86200" stroke-width="1.300"/>
<g clip-path="url(#kv)">
<circle cx="318.8" cy="621.2" r="2.600" fill="#ffa62a" stroke="#a86200" stroke-width=".9"/>
<circle cx="364.2" cy="615.8" r="2.600" fill="#ffa62a" stroke="#a86200" stroke-width=".9"/>
<circle cx="409.7" cy="617" r="2.600" fill="#ffa62a" stroke="#a86200" stroke-width=".9"/>
<circle cx="455" cy="548.3" r="2.600" fill="#ffa62a" stroke="#a86200" stroke-width=".9"/>
<circle cx="500.5" cy="545" r="2.600" fill="#ffa62a" stroke="#a86200" stroke-width=".9"/>
<circle cx="545.8" cy="547" r="2.600" fill="#ffa62a" stroke="#a86200" stroke-width=".9"/>
<circle cx="591.3" cy="598.8" r="2.600" fill="#ffa62a" stroke="#a86200" stroke-width=".9"/>
</g>
<path d="M294.7 533.01H296.7M294.7 536.33H296.7M294.7 539.64H296.7M294.7 542.95H296.7M294.7 549.58H296.7M294.7 552.89H296.7M294.7 556.2H296.7M294.7 559.51H296.7M294.7 566.14H296.7M294.7 569.45H296.7M294.7 572.76H296.7M294.7 576.08H296.7M294.7 582.7H296.7M294.7 586.01H296.7M294.7 589.33H296.7M294.7 592.64H296.7M294.7 599.26H296.7M294.7 602.58H296.7M294.7 605.89H296.7M294.7 609.2H296.7M294.7 615.83H296.7M294.7 619.14H296.7M294.7 622.45H296.7M294.7 625.76H296.7M294.7 632.39H296.7M294.7 635.7H296.7M294.7 639.01H296.7M294.7 642.33H296.7M294.7 648.95H296.7M294.7 652.26H296.7M294.7 655.58H296.7M294.7 658.89H296.7" stroke="#555" stroke-width=".7" fill="none" opacity=".75"/>
<path d="M292.2 529.7H296.7M292.2 546.26H296.7M292.2 562.83H296.7M292.2 579.39H296.7M292.2 595.95H296.7M292.2 612.51H296.7M292.2 629.08H296.7M292.2 645.64H296.7M292.2 662.2H296.7M319.5 662.2V666.7M409.7 662.2V666.7M500.5 662.2V666.7M296.5 529.7V662.5H614.2" stroke="#333" stroke-width="1" fill="none"/>
<g font-family="DejaVu Sans Condensed, DejaVu Sans, sans-serif" font-size="10.250" fill="#222" text-anchor="end" letter-spacing="-.15">
<text x="284.4" y="533.6">160,000</text>
<text x="284.4" y="550.16">140,000</text>
<text x="284.4" y="566.73">120,000</text>
<text x="284.4" y="583.29">100,000</text>
<text x="284.4" y="599.85">80,000</text>
<text x="284.4" y="616.41">60,000</text>
<text x="284.4" y="632.98">40,000</text>
<text x="284.4" y="649.54">20,000</text>
<text x="284.4" y="666.1">0</text>
</g>
<g font-family="DejaVu Sans Condensed, DejaVu Sans, sans-serif" font-size="10.400" fill="#222" text-anchor="middle">
<text x="319.7" y="685.1">12/04/2013</text>
<text x="409.9" y="685.1">12/02/2013</text>
<text x="500.7" y="685.1">11/30/2013</text>
</g></svg>
<svg class="a" style="left:469px;top:430px" width="391" height="200" viewBox="647 500 391 200" >
<defs><pattern id="ho" width="13.4" height="13.4" patternUnits="userSpaceOnUse" x="851.3" y="583.6"><rect width="13.4" height="13.4" fill="#0c5ccf"/><path d="M-1 -1L14.4 14.4" stroke="#a6d6ff" stroke-opacity="0.8" stroke-width="1.400" fill="none"/><path d="M-1 14.4L14.4 -1" stroke="#a6d6ff" stroke-opacity="0.8" stroke-width="1.400" fill="none"/></pattern><clipPath id="ko"><rect x="691.3" y="523.7" width="340.7" height="138.5"/></clipPath></defs>
<rect x="648.7" y="501.2" width="386.6" height="196.3" fill="url(#cbg)" stroke="#d9d9d9" stroke-width="1"/>
<text x="861.3" y="517.9" text-anchor="middle" font-family="DejaVu Sans Condensed, DejaVu Sans, sans-serif" font-weight="bold" font-size="10.400" fill="#4a4a4a">Opens</text>
<rect x="697.3" y="529.7" width="328.7" height="132.5" fill="#fff"/>
<rect x="697.3" y="645.64" width="328.7" height="16.56" fill="#f7f7f7"/>
<rect x="697.3" y="612.51" width="328.7" height="16.56" fill="#f7f7f7"/>
<rect x="697.3" y="579.39" width="328.7" height="16.56" fill="#f7f7f7"/>
<rect x="697.3" y="546.26" width="328.7" height="16.56" fill="#f7f7f7"/>
<path d="M697.3 529.7H1026M697.3 546.26H1026M697.3 562.83H1026M697.3 579.39H1026M697.3 595.95H1026M697.3 612.51H1026M697.3 629.08H1026M697.3 645.64H1026" stroke="#cbcbcb" stroke-width="1.300" fill="none"/>
<path d="M720 529.7V662.2M815 529.7V662.2M909.3 529.7V662.2M1026 529.7V662.2" stroke="#bcbcbc" stroke-width=".9" fill="none"/>
<path d="M720 587.7C735.77 587.5 751.53 587.69 767.3 584C782.97 580.33 798.63 567.69 814.3 561C830.1 554.25 845.9 543.7 861.7 543.7C877.37 543.7 893.03 543.96 908.7 544.3C924.37 544.64 940.03 544.32 955.7 548C971.23 551.65 986.77 579.81 1002.3 582.7L1002.3 662.2L720 662.2Z" fill="url(#ho)"/>
<path d="M720 587.7C735.77 587.5 751.53 587.69 767.3 584C782.97 580.33 798.63 567.69 814.3 561C830.1 554.25 845.9 543.7 861.7 543.7C877.37 543.7 893.03 543.96 908.7 544.3C924.37 544.64 940.03 544.32 955.7 548C971.23 551.65 986.77 579.81 1002.3 582.7" fill="none" stroke="#0a4aa0" stroke-width="1.300"/>
<g clip-path="url(#ko)">
<circle cx="720" cy="587.7" r="2.600" fill="#3f8fec" stroke="#0a4aa0" stroke-width=".9"/>
<circle cx="767.3" cy="584" r="2.600" fill="#3f8fec" stroke="#0a4aa0" stroke-width=".9"/>
<circle cx="814.3" cy="561" r="2.600" fill="#3f8fec" stroke="#0a4aa0" stroke-width=".9"/>
<circle cx="861.7" cy="543.7" r="2.600" fill="#3f8fec" stroke="#0a4aa0" stroke-width=".9"/>
<circle cx="908.7" cy="544.3" r="2.600" fill="#3f8fec" stroke="#0a4aa0" stroke-width=".9"/>
<circle cx="955.7" cy="548" r="2.600" fill="#3f8fec" stroke="#0a4aa0" stroke-width=".9"/>
<circle cx="1002.3" cy="582.7" r="2.600" fill="#3f8fec" stroke="#0a4aa0" stroke-width=".9"/>
</g>
<path d="M695.3 533.01H697.3M695.3 536.33H697.3M695.3 539.64H697.3M695.3 542.95H697.3M695.3 549.58H697.3M695.3 552.89H697.3M695.3 556.2H697.3M695.3 559.51H697.3M695.3 566.14H697.3M695.3 569.45H697.3M695.3 572.76H697.3M695.3 576.08H697.3M695.3 582.7H697.3M695.3 586.01H697.3M695.3 589.33H697.3M695.3 592.64H697.3M695.3 599.26H697.3M695.3 602.58H697.3M695.3 605.89H697.3M695.3 609.2H697.3M695.3 615.83H697.3M695.3 619.14H697.3M695.3 622.45H697.3M695.3 625.76H697.3M695.3 632.39H697.3M695.3 635.7H697.3M695.3 639.01H697.3M695.3 642.33H697.3M695.3 648.95H697.3M695.3 652.26H697.3M695.3 655.58H697.3M695.3 658.89H697.3" stroke="#555" stroke-width=".7" fill="none" opacity=".75"/>
<path d="M692.8 529.7H697.3M692.8 546.26H697.3M692.8 562.83H697.3M692.8 579.39H697.3M692.8 595.95H697.3M692.8 612.51H697.3M692.8 629.08H697.3M692.8 645.64H697.3M692.8 662.2H697.3M720 662.2V666.7M815 662.2V666.7M909.3 662.2V666.7M697.5 529.7V662.5H1026" stroke="#333" stroke-width="1" fill="none"/>
<g font-family="DejaVu Sans Condensed, DejaVu Sans, sans-serif" font-size="10.250" fill="#222" text-anchor="end" letter-spacing="-.15">
<text x="685.8" y="533.6">8,000</text>
<text x="685.8" y="550.16">7,000</text>
<text x="685.8" y="566.73">6,000</text>
<text x="685.8" y="583.29">5,000</text>
<text x="685.8" y="599.85">4,000</text>
<text x="685.8" y="616.41">3,000</text>
<text x="685.8" y="632.98">2,000</text>
<text x="685.8" y="649.54">1,000</text>
<text x="685.8" y="666.1">0</text>
</g>
<g font-family="DejaVu Sans Condensed, DejaVu Sans, sans-serif" font-size="10.400" fill="#222" text-anchor="middle">
<text x="720.2" y="685.1">12/04/2013</text>
<text x="815.2" y="685.1">12/02/2013</text>
<text x="909.5" y="685.1">11/30/2013</text>
</g></svg>
<svg class="a" style="left:882px;top:430px" width="391" height="200" viewBox="1060 500 391 200" >
<defs><pattern id="hc" width="13.4" height="13.4" patternUnits="userSpaceOnUse" x="1242.05" y="596.8"><rect width="13.4" height="13.4" fill="#e23a32"/><path d="M-1 -1L14.4 14.4" stroke="#ffd2ce" stroke-opacity="0.8" stroke-width="1.400" fill="none"/><path d="M-1 14.4L14.4 -1" stroke="#ffd2ce" stroke-opacity="0.8" stroke-width="1.400" fill="none"/></pattern><clipPath id="kc"><rect x="1094.7" y="523.7" width="350.3" height="138.5"/></clipPath></defs>
<rect x="1061.7" y="501.2" width="386.6" height="196.3" fill="url(#cbg)" stroke="#d9d9d9" stroke-width="1"/>
<text x="1270.3" y="517.9" text-anchor="middle" font-family="DejaVu Sans Condensed, DejaVu Sans, sans-serif" font-weight="bold" font-size="10.400" fill="#4a4a4a">Clicks</text>
<rect x="1100.7" y="529.7" width="338.3" height="132.5" fill="#fff"/>
<rect x="1100.7" y="635.7" width="338.3" height="26.5" fill="#f7f7f7"/>
<rect x="1100.7" y="582.7" width="338.3" height="26.5" fill="#f7f7f7"/>
<rect x="1100.7" y="529.7" width="338.3" height="26.5" fill="#f7f7f7"/>
<path d="M1100.7 529.7H1439M1100.7 556.2H1439M1100.7 582.7H1439M1100.7 609.2H1439M1100.7 635.7H1439" stroke="#cbcbcb" stroke-width="1.300" fill="none"/>
<path d="M1125.3 529.7V662.2M1221.7 529.7V662.2M1318.7 529.7V662.2M1439 529.7V662.2" stroke="#bcbcbc" stroke-width=".9" fill="none"/>
<path d="M1125.3 584.3C1141.43 582.68 1157.57 565.06 1173.7 560C1189.7 554.98 1205.7 556.6 1221.7 554C1237.9 551.37 1254.1 544.3 1270.3 544.3C1286.43 544.3 1302.57 554.3 1318.7 554.3C1334.57 554.3 1350.43 546.7 1366.3 546.7C1382.43 546.7 1398.57 597.12 1414.7 601.7L1414.7 662.2L1125.3 662.2Z" fill="url(#hc)"/>
<path d="M1125.3 584.3C1141.43 582.68 1157.57 565.06 1173.7 560C1189.7 554.98 1205.7 556.6 1221.7 554C1237.9 551.37 1254.1 544.3 1270.3 544.3C1286.43 544.3 1302.57 554.3 1318.7 554.3C1334.57 554.3 1350.43 546.7 1366.3 546.7C1382.43 546.7 1398.57 597.12 1414.7 601.7" fill="none" stroke="#8a1414" stroke-width="1.300"/>
<g clip-path="url(#kc)">
<circle cx="1125.3" cy="584.3" r="2.600" fill="#f0605a" stroke="#8a1414" stroke-width=".9"/>
<circle cx="1173.7" cy="560" r="2.600" fill="#f0605a" stroke="#8a1414" stroke-width=".9"/>
<circle cx="1221.7" cy="554" r="2.600" fill="#f0605a" stroke="#8a1414" stroke-width=".9"/>
<circle cx="1270.3" cy="544.3" r="2.600" fill="#f0605a" stroke="#8a1414" stroke-width=".9"/>
<circle cx="1318.7" cy="554.3" r="2.600" fill="#f0605a" stroke="#8a1414" stroke-width=".9"/>
<circle cx="1366.3" cy="546.7" r="2.600" fill="#f0605a" stroke="#8a1414" stroke-width=".9"/>
<circle cx="1414.7" cy="601.7" r="2.600" fill="#f0605a" stroke="#8a1414" stroke-width=".9"/>
</g>
<path d="M1098.7 533.01H1100.7M1098.7 536.33H1100.7M1098.7 539.64H1100.7M1098.7 542.95H1100.7M1098.7 546.26H1100.7M1098.7 549.58H1100.7M1098.7 552.89H1100.7M1098.7 559.51H1100.7M1098.7 562.83H1100.7M1098.7 566.14H1100.7M1098.7 569.45H1100.7M1098.7 572.76H1100.7M1098.7 576.08H1100.7M1098.7 579.39H1100.7M1098.7 586.01H1100.7M1098.7 589.33H1100.7M1098.7 592.64H1100.7M1098.7 595.95H1100.7M1098.7 599.26H1100.7M1098.7 602.58H1100.7M1098.7 605.89H1100.7M1098.7 612.51H1100.7M1098.7 615.83H1100.7M1098.7 619.14H1100.7M1098.7 622.45H1100.7M1098.7 625.76H1100.7M1098.7 629.08H1100.7M1098.7 632.39H1100.7M1098.7 639.01H1100.7M1098.7 642.33H1100.7M1098.7 645.64H1100.7M1098.7 648.95H1100.7M1098.7 652.26H1100.7M1098.7 655.58H1100.7M1098.7 658.89H1100.7" stroke="#555" stroke-width=".7" fill="none" opacity=".75"/>
<path d="M1096.2 529.7H1100.7M1096.2 556.2H1100.7M1096.2 582.7H1100.7M1096.2 609.2H1100.7M1096.2 635.7H1100.7M1096.2 662.2H1100.7M1125.3 662.2V666.7M1221.7 662.2V666.7M1318.7 662.2V666.7M1100.5 529.7V662.5H1439" stroke="#333" stroke-width="1" fill="none"/>
<g font-family="DejaVu Sans Condensed, DejaVu Sans, sans-serif" font-size="10.250" fill="#222" text-anchor="end" letter-spacing="-.15">
<text x="1089.8" y="533.6">500</text>
<text x="1089.8" y="560.1">400</text>
<text x="1089.8" y="586.6">300</text>
<text x="1089.8" y="613.1">200</text>
<text x="1089.8" y="639.6">100</text>
<text x="1089.8" y="666.1">0</text>
</g>
<g font-family="DejaVu Sans Condensed, DejaVu Sans, sans-serif" font-size="10.400" fill="#222" text-anchor="middle">
<text x="1125.5" y="685.1">12/04/2013</text>
<text x="1221.9" y="685.1">12/02/2013</text>
<text x="1318.9" y="685.1">11/30/2013</text>
</g></svg>
<svg class="a" style="left:57px;top:650px" width="391" height="222" viewBox="235 720 391 222" >
<defs><pattern id="hn" width="14.05" height="14.05" patternUnits="userSpaceOnUse" x="534.8" y="842"><rect width="14.05" height="14.05" fill="#14b60a"/><path d="M-1 -1L15.05 15.05" stroke="#b4ffb4" stroke-opacity="0.78" stroke-width="1.400" fill="none"/><path d="M-1 15.05L15.05 -1" stroke="#b4ffb4" stroke-opacity="0.78" stroke-width="1.400" fill="none"/></pattern><clipPath id="kn"><rect x="259.7" y="743.7" width="360.3" height="161.3"/></clipPath></defs>
<rect x="236.7" y="721" width="386.6" height="219" fill="url(#cbg)" stroke="#d9d9d9" stroke-width="1"/>
<text x="439.3" y="737.7" text-anchor="middle" font-family="DejaVu Sans Condensed, DejaVu Sans, sans-serif" font-weight="bold" font-size="10.400" fill="#4a4a4a">Conversions</text>
<rect x="265.7" y="749.7" width="348.3" height="155.3" fill="#fff"/>
<rect x="265.7" y="873.94" width="348.3" height="31.06" fill="#f7f7f7"/>
<rect x="265.7" y="811.82" width="348.3" height="31.06" fill="#f7f7f7"/>
<rect x="265.7" y="749.7" width="348.3" height="31.06" fill="#f7f7f7"/>
<path d="M265.7 749.7H614M265.7 780.76H614M265.7 811.82H614M265.7 842.88H614M265.7 873.94H614" stroke="#cbcbcb" stroke-width="1.300" fill="none"/>
<path d="M289.7 749.7V905M389.7 749.7V905M489.3 749.7V905M614 749.7V905" stroke="#bcbcbc" stroke-width=".9" fill="none"/>
<path d="M284.3 812C301.43 818.2 318.57 905 335.7 905C352.8 905 369.9 858.7 387 858.7C404.13 858.7 421.27 881.7 438.4 881.7C455.53 881.7 472.67 874.2 489.8 858.7C506.87 843.26 523.93 804.44 541 789C558.13 773.5 575.27 767.92 592.4 766L592.4 905L284.3 905Z" fill="url(#hn)"/>
<path d="M284.3 812C301.43 818.2 318.57 905 335.7 905C352.8 905 369.9 858.7 387 858.7C404.13 858.7 421.27 881.7 438.4 881.7C455.53 881.7 472.67 874.2 489.8 858.7C506.87 843.26 523.93 804.44 541 789C558.13 773.5 575.27 767.92 592.4 766" fill="none" stroke="#118a00" stroke-width="1.300"/>
<g clip-path="url(#kn)">
<circle cx="284.3" cy="812" r="2.600" fill="#3fdc1c" stroke="#118a00" stroke-width=".9"/>
<circle cx="335.7" cy="905" r="2.600" fill="#3fdc1c" stroke="#118a00" stroke-width=".9"/>
<circle cx="387" cy="858.7" r="2.600" fill="#3fdc1c" stroke="#118a00" stroke-width=".9"/>
<circle cx="438.4" cy="881.7" r="2.600" fill="#3fdc1c" stroke="#118a00" stroke-width=".9"/>
<circle cx="489.8" cy="858.7" r="2.600" fill="#3fdc1c" stroke="#118a00" stroke-width=".9"/>
<circle cx="541" cy="789" r="2.600" fill="#3fdc1c" stroke="#118a00" stroke-width=".9"/>
<circle cx="592.4" cy="766" r="2.600" fill="#3fdc1c" stroke="#118a00" stroke-width=".9"/>
</g>
<path d="M263.7 757.47H265.7M263.7 765.23H265.7M263.7 773H265.7M263.7 788.52H265.7M263.7 796.29H265.7M263.7 804.05H265.7M263.7 819.59H265.7M263.7 827.35H265.7M263.7 835.12H265.7M263.7 850.64H265.7M263.7 858.41H265.7M263.7 866.17H265.7M263.7 881.71H265.7M263.7 889.47H265.7M263.7 897.24H265.7" stroke="#555" stroke-width=".7" fill="none" opacity=".75"/>
<path d="M261.2 749.7H265.7M261.2 780.76H265.7M261.2 811.82H265.7M261.2 842.88H265.7M261.2 873.94H265.7M261.2 905H265.7M289.7 905V909.5M389.7 905V909.5M489.3 905V909.5M265.5 749.7V904.5H614" stroke="#333" stroke-width="1" fill="none"/>
<g font-family="DejaVu Sans Condensed, DejaVu Sans, sans-serif" font-size="10.250" fill="#222" text-anchor="end" letter-spacing="-.15">
<text x="253.5" y="753.6">1</text>
<text x="253.5" y="784.66">0</text>
<text x="253.5" y="815.72">0</text>
<text x="253.5" y="846.78">0</text>
<text x="253.5" y="877.84">0</text>
<text x="253.5" y="908.9">0</text>
</g>
<g font-family="DejaVu Sans Condensed, DejaVu Sans, sans-serif" font-size="10.400" fill="#222" text-anchor="middle">
<text x="289.9" y="927.9">12/04/2013</text>
<text x="389.9" y="927.9">12/02/2013</text>
<text x="489.5" y="927.9">11/30/2013</text>
</g></svg>
<svg class="a" style="left:469px;top:650px" width="804" height="222" viewBox="647 720 804 222" >
<defs>
<linearGradient id="fbg" x1="0" y1="0" x2="0" y2="1"><stop offset="0" stop-color="#fdfdfd"/><stop offset=".45" stop-color="#f1f1f1"/><stop offset=".55" stop-color="#f3f3f3"/><stop offset="1" stop-color="#fdfdfd"/></linearGradient>
<linearGradient id="fb1" x1="0" y1="0" x2="1" y2="0"><stop offset="0" stop-color="#2480c6"/><stop offset=".5" stop-color="#1b6db2"/><stop offset="1" stop-color="#2278be"/></linearGradient>
<linearGradient id="fo1" x1="0" y1="0" x2="1" y2="0"><stop offset="0" stop-color="#dc5e22"/><stop offset=".45" stop-color="#c24a12"/><stop offset="1" stop-color="#d4581e"/></linearGradient>
<filter id="fsh" x="-10%" y="-10%" width="125%" height="130%"><feGaussianBlur stdDeviation="1.600"/></filter>
</defs>
<rect x="648.7" y="721" width="799.6" height="219" fill="url(#fbg)" stroke="#d9d9d9" stroke-width="1"/>
<text x="1027" y="737.700" text-anchor="middle" font-family="DejaVu Sans Condensed, DejaVu Sans, sans-serif" font-weight="bold" font-size="10.400" fill="#4a4a4a">Campaign Funnel</text>
<path d="M815 782.7H1210" stroke="#d2d2d2" stroke-width="1.200" transform="translate(0,1.200)"/><path d="M815 782.7H1210" stroke="#5a5a5a" stroke-width="1"/>
<path d="M853.5 843.7H1236" stroke="#d2d2d2" stroke-width="1.200" transform="translate(0,1.200)"/><path d="M853.5 843.7H1236" stroke="#5a5a5a" stroke-width="1"/>
<path d="M749 888.3H1254" stroke="#d2d2d2" stroke-width="1.200" transform="translate(0,1.200)"/><path d="M749 888.3H1254" stroke="#5a5a5a" stroke-width="1"/>
<path d="M738.8 916H1254" stroke="#d2d2d2" stroke-width="1.200" transform="translate(0,1.200)"/><path d="M738.8 916H1254" stroke="#5a5a5a" stroke-width="1"/>
<g font-family="DejaVu Sans, sans-serif" font-weight="bold" font-size="9.800" fill="#1f1f1f" letter-spacing="-.17">
<text x="669.300" y="786.4">Total Subscribers: 656,906</text>
<text x="669.300" y="847.4">Completed Transmission: 654,600</text>
<text x="669.300" y="892">Opens: 41,279</text>
<text x="669.300" y="919.7">Clicks: 2,603</text>
</g>
<path d="M1198.500 768c0-7.500 31-13.500 70.200-13.500s70.200 6 70.200 13.500l-16 33c-3 5-26 8.500-54.200 8.500s-51.200-3.500-54.200-8.500z" fill="#7a7a7a" opacity=".45" filter="url(#fsh)" transform="translate(2.500,2.500)"/>
<path d="M1198.500 768c0-7.500 31-13.500 70.200-13.500s70.200 6 70.200 13.500l-16 33c-3 5-26 8.500-54.200 8.500s-51.200-3.500-54.200-8.500z" fill="url(#fb1)"/>
<ellipse cx="1268.700" cy="767.500" rx="69.500" ry="12.500" fill="#217bc1"/>
<path d="M1226.500 828c0-4.800 18.800-8.700 42.200-8.700s42.200 3.900 42.200 8.700l-14.500 30c-2 3.500-13.500 6.300-27.700 6.300s-25.700-2.800-27.700-6.300z" fill="#7a7a7a" opacity=".45" filter="url(#fsh)" transform="translate(2.500,2.500)"/>
<path d="M1226.500 828c0-4.800 18.800-8.700 42.200-8.700s42.200 3.900 42.200 8.700l-14.500 30c-2 3.500-13.500 6.300-27.700 6.300s-25.700-2.800-27.700-6.300z" fill="url(#fo1)"/>
<ellipse cx="1268.700" cy="827.700" rx="41.500" ry="8" fill="#d6581c"/>
<ellipse cx="1270.500" cy="890" rx="17" ry="3.800" fill="#7a7a7a" opacity=".5" filter="url(#fsh)"/><ellipse cx="1268.700" cy="888.300" rx="17.200" ry="4" fill="#2f9a16"/><ellipse cx="1268.700" cy="887.500" rx="17" ry="3.300" fill="#43c01f"/>
<ellipse cx="1270.500" cy="917.500" rx="17" ry="3.800" fill="#7a7a7a" opacity=".5" filter="url(#fsh)"/><ellipse cx="1268.700" cy="915.800" rx="17.200" ry="4" fill="#a3a312"/><ellipse cx="1268.700" cy="915" rx="17" ry="3.300" fill="#d0cf1c"/>
</svg>
<svg class="a" style="left:57px;top:890px" width="391" height="199" viewBox="235 960 391 199" >
<rect x="236.7" y="961.7" width="386.6" height="194.6" fill="url(#cbg)" stroke="#d9d9d9" stroke-width="1"/>
<text x="457.7" y="978.89" text-anchor="middle" font-family="DejaVu Sans Condensed, DejaVu Sans, sans-serif" font-weight="bold" font-size="10.8" fill="#4a4a4a">Bounces</text>
<rect x="283.3" y="991.3" width="330.7" height="41" fill="#ffd6d6"/>
<rect x="283.3" y="1032.3" width="330.7" height="42" fill="#ffffd6"/>
<rect x="283.3" y="1074.3" width="330.7" height="46" fill="#d6ffd6"/>
<path d="M283.3 1032.3H614M283.3 1074.3H614" stroke="#c8b8a8" stroke-width=".9" fill="none" opacity=".85"/>
<path d="M308.3 991.3V1120.3M408.3 991.3V1120.3M508.3 991.3V1120.3" stroke="#b0b0a8" stroke-width=".8" fill="none" opacity=".45"/>
<path d="M283.3 1111.7L342.7 1091.7L406.7 1090.3L455 1104.3L505.7 1061.7L563.3 1099.3" fill="none" stroke="#2b8be0" stroke-width="1.250" stroke-linejoin="round"/>
<path d="M304.5 1120.3a3.200 3.200 0 0 1 6.400 0z" fill="#2a86d8" stroke="#1f6fb8" stroke-width=".6"/>
<path d="M355.1 1120.3a3.200 3.200 0 0 1 6.400 0z" fill="#2a86d8" stroke="#1f6fb8" stroke-width=".6"/>
<path d="M405.1 1120.3a3.200 3.200 0 0 1 6.400 0z" fill="#2a86d8" stroke="#1f6fb8" stroke-width=".6"/>
<path d="M455.1 1120.3a3.200 3.200 0 0 1 6.400 0z" fill="#2a86d8" stroke="#1f6fb8" stroke-width=".6"/>
<path d="M505.1 1120.3a3.200 3.200 0 0 1 6.400 0z" fill="#2a86d8" stroke="#1f6fb8" stroke-width=".6"/>
<path d="M585.8 1120.3a3.200 3.200 0 0 1 6.400 0z" fill="#2a86d8" stroke="#1f6fb8" stroke-width=".6"/>
<path d="M278.8 991.3H283.3M278.8 1032.3H283.3M278.8 1074.3H283.3M278.8 1120.3H283.3M308.3 1120.3V1124.8M408.3 1120.3V1124.8M508.3 1120.3V1124.8M283.5 991.3V1120.5H614" stroke="#2a2a2a" stroke-width="1" fill="none"/>
<g font-family="Liberation Sans, sans-serif" font-size="11" fill="#222" text-anchor="end">
<text x="273.5" y="995.2">10%</text>
<text x="273.5" y="1036.2">5%</text>
<text x="273.5" y="1078.2">3%</text>
<text x="273.5" y="1124.2">0%</text>
</g>
<g font-family="DejaVu Sans Condensed, DejaVu Sans, sans-serif" font-weight="bold" font-size="11.100" fill="#333" text-anchor="end">
<text x="604.3" y="1020.3">Poor</text>
<text x="606.7" y="1058.3">Average</text>
<text x="606.7" y="1101">Good</text>
</g>
<g font-family="DejaVu Sans Condensed, DejaVu Sans, sans-serif" font-size="10.650" fill="#222" text-anchor="middle">
<text x="308.3" y="1142.9">12/04/2013</text>
<text x="408.3" y="1142.9">12/02/2013</text>
<text x="508.3" y="1142.9">11/30/2013</text>
</g></svg>
<svg class="a" style="left:468px;top:890px" width="391" height="199" viewBox="646 960 391 199" >
<rect x="647.3" y="961.7" width="387.4" height="194.6" fill="url(#cbg)" stroke="#d9d9d9" stroke-width="1"/>
<text x="863.3" y="977.48" text-anchor="middle" font-family="Liberation Sans, sans-serif" font-weight="bold" font-size="11.6" fill="#222">Complaints</text>
<rect x="694.3" y="991.3" width="330.7" height="41" fill="#ffd6d6"/>
<rect x="694.3" y="1032.3" width="330.7" height="42" fill="#ffffd6"/>
<rect x="694.3" y="1074.3" width="330.7" height="46" fill="#d6ffd6"/>
<path d="M694.3 1032.3H1025M694.3 1074.3H1025" stroke="#c8b8a8" stroke-width=".9" fill="none" opacity=".85"/>
<path d="M719.3 991.3V1120.3M819.3 991.3V1120.3M919.3 991.3V1120.3" stroke="#b0b0a8" stroke-width=".8" fill="none" opacity=".45"/>
<path d="M700 1096.3L770 1095L790 1067L809 1101.3L895 1100.3L940.7 1087" fill="none" stroke="#2b8be0" stroke-width="1.250" stroke-linejoin="round"/>
<path d="M944 1087.3L995.7 1108.3" fill="none" stroke="#2b8be0" stroke-width="1.250" stroke-linejoin="round"/>
<path d="M715.8 1120.3a3.200 3.200 0 0 1 6.400 0z" fill="#2a86d8" stroke="#1f6fb8" stroke-width=".6"/>
<path d="M766.1 1120.3a3.200 3.200 0 0 1 6.400 0z" fill="#2a86d8" stroke="#1f6fb8" stroke-width=".6"/>
<path d="M816.1 1120.3a3.200 3.200 0 0 1 6.400 0z" fill="#2a86d8" stroke="#1f6fb8" stroke-width=".6"/>
<path d="M866.1 1120.3a3.200 3.200 0 0 1 6.400 0z" fill="#2a86d8" stroke="#1f6fb8" stroke-width=".6"/>
<path d="M916.1 1120.3a3.200 3.200 0 0 1 6.400 0z" fill="#2a86d8" stroke="#1f6fb8" stroke-width=".6"/>
<path d="M996.8 1120.3a3.200 3.200 0 0 1 6.400 0z" fill="#2a86d8" stroke="#1f6fb8" stroke-width=".6"/>
<path d="M689.8 991.3H694.3M689.8 1032.3H694.3M689.8 1074.3H694.3M689.8 1120.3H694.3M719.3 1120.3V1124.8M819.3 1120.3V1124.8M919.3 1120.3V1124.8M694.5 991.3V1120.5H1025" stroke="#2a2a2a" stroke-width="1" fill="none"/>
<g font-family="Liberation Sans, sans-serif" font-size="11" fill="#222" text-anchor="end">
<text x="684.5" y="995.2">10%</text>
<text x="684.5" y="1036.2">5%</text>
<text x="684.5" y="1078.2">3%</text>
<text x="684.5" y="1124.2">0%</text>
</g>
<g font-family="DejaVu Sans Condensed, DejaVu Sans, sans-serif" font-weight="bold" font-size="11.100" fill="#333" text-anchor="end">
<text x="1015.3" y="1020.3">Poor</text>
<text x="1017.7" y="1058.3">Average</text>
<text x="1017.7" y="1101">Good</text>
</g>
<g font-family="DejaVu Sans Condensed, DejaVu Sans, sans-serif" font-size="10.650" fill="#222" text-anchor="middle">
<text x="719.3" y="1142.9">12/04/2013</text>
<text x="819.3" y="1142.9">12/02/2013</text>
<text x="919.3" y="1142.9">11/30/2013</text>
</g></svg>
<svg class="a" style="left:881px;top:890px" width="391" height="199" viewBox="1059 960 391 199" >
<rect x="1060.3" y="961.7" width="387.4" height="194.6" fill="url(#cbg)" stroke="#d9d9d9" stroke-width="1"/>
<text x="1273" y="978.48" text-anchor="middle" font-family="Liberation Sans, sans-serif" font-weight="bold" font-size="11.6" fill="#222">Sender Score</text>
<rect x="1107.7" y="991.3" width="330.3" height="26" fill="#d6ffd6"/>
<rect x="1107.7" y="1017.3" width="330.3" height="27" fill="#ffffd6"/>
<rect x="1107.7" y="1044.3" width="330.3" height="76" fill="#ffd6d6"/>
<path d="M1107.7 1017.3H1438M1107.7 1044.3H1438" stroke="#c8b8a8" stroke-width=".9" fill="none" opacity=".85"/>
<path d="M1213.7 991.3V1120.3M1313.7 991.3V1120.3M1413.7 991.3V1120.3" stroke="#b0b0a8" stroke-width=".8" fill="none" opacity=".45"/>
<path d="M1114 998.3L1178 1007L1242.3 1002.3L1334.7 1028.7L1394.7 1005.7" fill="none" stroke="#2b8be0" stroke-width="1.250" stroke-linejoin="round"/>
<path d="M1103.2 991.3H1107.7M1103.2 1017.3H1107.7M1103.2 1044.3H1107.7M1103.2 1120.3H1107.7M1132.3 1120.3V1124.8M1232.3 1120.3V1124.8M1332.3 1120.3V1124.8M1107.5 991.3V1120.5H1438" stroke="#2a2a2a" stroke-width="1" fill="none"/>
<g font-family="Liberation Sans, sans-serif" font-size="11" fill="#222" text-anchor="end">
<text x="1098.8" y="995.2">100%</text>
<text x="1098.8" y="1021.2">90%</text>
<text x="1098.8" y="1048.2">80%</text>
<text x="1098.8" y="1124.2">0%</text>
</g>
<g font-family="DejaVu Sans Condensed, DejaVu Sans, sans-serif" font-weight="bold" font-size="11.100" fill="#333" text-anchor="end">
<text x="1428.3" y="1006.3">Good</text>
<text x="1432.3" y="1034.3">Average</text>
<text x="1430.7" y="1085.3">Poor</text>
</g>
<g font-family="DejaVu Sans Condensed, DejaVu Sans, sans-serif" font-size="10.650" fill="#222" text-anchor="middle">
<text x="1132.3" y="1142.9">12/04/2013</text>
<text x="1232.3" y="1142.9">12/02/2013</text>
<text x="1332.3" y="1142.9">11/30/2013</text>
</g></svg>
<!-- ================= BOTTOM WIDGETS ================= -->
<style>
.gr2 span{color:#858585}
.mc{position:absolute;top:0;bottom:0;width:1px;background:#e9ebef}
.mh{position:absolute;top:0;line-height:20px;font-size:11.200px;font-weight:bold;color:#111;text-align:center;white-space:nowrap}
.md{position:absolute;font-size:11.200px;color:#5f5f5f;text-align:center;white-space:pre}
</style>
<div class="wg" style="left:45.3px;top:1113.3px;width:613.7px;height:326.7px">
<div class="phd" style="height:26px"><span class="a" style="left:6.5px;top:7px;line-height:14px;font-size:11.200px">Last Five Messages Created/Modified</span></div>
<div class="gh" style="top:25.4px;height:20.300px">
<i style="left:119px"></i>
<i style="left:239px"></i>
<i style="left:361px"></i>
<i style="left:486px"></i>
<b style="left:-1px;width:120px;text-align:center;font-size:11.200px;line-height:19.500px">Message Name A</b>
<b style="left:119.5px;width:120px;text-align:center;font-size:11.200px;line-height:19.500px">Message Name B</b>
<b style="left:237.2px;width:120px;text-align:center;font-size:11.200px;line-height:19.500px">Message Name C</b>
<b style="left:363.2px;width:120px;text-align:center;font-size:11.200px;line-height:19.500px">Message Name D</b>
<b style="left:487.5px;width:120px;text-align:center;font-size:11.200px;line-height:19.500px">Message Name E</b>
</div>
<div class="a" style="left:0;right:0;top:45.7px;height:235px">
<div class="mc" style="left:119px"></div>
<div class="mc" style="left:239px"></div>
<div class="mc" style="left:361px"></div>
<div class="mc" style="left:486px"></div>
</div>
<div class="a" style="left:0;right:0;top:280.7px;height:23.400px;background:#f8f8f8;border-top:1px solid #ebebeb;border-bottom:1px solid #ebebeb">
<div class="mc" style="left:119px"></div>
<div class="mc" style="left:239px"></div>
<div class="mc" style="left:361px"></div>
<div class="mc" style="left:486px"></div>
<div class="md" style="left:-6.3px;width:130px;top:0;line-height:20.500px">01/20/2014  08:00AM</div>
<div class="md" style="left:112.3px;width:130px;top:0;line-height:20.500px">01/19/2014 10:00AM</div>
<div class="md" style="left:233.9px;width:130px;top:0;line-height:20.500px">01/18/2014  12:00PM</div>
<div class="md" style="left:356.7px;width:130px;top:0;line-height:20.500px">01/17/2014  01:30PM</div>
<div class="md" style="left:480px;width:130px;top:0;line-height:20.500px">01/16/2014  02:15PM</div>
</div>
<div class="a" style="left:0;right:0;top:304.1px;height:22px">
<div class="mc" style="left:119px"></div>
<div class="mc" style="left:239px"></div>
<div class="mc" style="left:361px"></div>
<div class="mc" style="left:486px"></div>
<div class="md" style="left:-6.3px;width:130px;top:0;line-height:22px">Elie Ashery</div>
<div class="md" style="left:110.5px;width:130px;top:0;line-height:22px">Michael Weisel</div>
<div class="md" style="left:233.4px;width:130px;top:0;line-height:22px">Elie Ashery</div>
<div class="md" style="left:356.7px;width:130px;top:0;line-height:22px">Michael Weisel</div>
<div class="md" style="left:486.2px;width:130px;top:0;line-height:22px">Elie Ashery</div>
</div>
<!-- thumbnails -->
<svg class="a" style="left:7.800px;top:90.800px" width="101.700" height="139.800" viewBox="0 0 101.700 139.800">
  <defs><linearGradient id="ta1" x1="0" y1="0" x2="0" y2="1"><stop offset="0" stop-color="#2458a8"/><stop offset=".5" stop-color="#2f66b6"/><stop offset="1" stop-color="#2a5cae"/></linearGradient>
  <linearGradient id="ta2" x1="0" y1="0" x2="1" y2="1"><stop offset="0" stop-color="#d8c9a8"/><stop offset="1" stop-color="#8f9aa8"/></linearGradient></defs>
  <rect width="101.700" height="139.800" fill="#dadada"/>
  <rect x="3.400" y="8.600" width="94.700" height="125.400" fill="#ececec"/>
  <rect x="13" y="3.800" width="75" height="1.200" fill="#8a8a8a" opacity=".7"/>
  <rect x="3.400" y="8.600" width="94.700" height="43.300" fill="url(#ta1)"/>
  <text x="8" y="15.500" font-family="Liberation Sans, sans-serif" font-weight="bold" font-size="3.200" fill="#fff">Acme Inc.</text>
  <rect x="60" y="13.200" width="32" height="1.600" fill="#dbe6f6" opacity=".8"/>
  <text x="8" y="28" font-family="Liberation Sans, sans-serif" font-weight="bold" font-size="4.200" fill="#fff">Give us your feedback</text>
  <text x="8" y="33.200" font-family="Liberation Sans, sans-serif" font-weight="bold" font-size="3.600" fill="#e8eefa">&amp; share your thoughts.</text>
  <rect x="7.700" y="37.600" width="37.300" height="7.200" fill="#f2a90e"/><rect x="12" y="40.300" width="26" height="1.800" fill="#6a4a0a" opacity=".75"/>
  <path d="M71.500 30a6 6 0 0 1 12.500 0a5.500 5.500 0 0 1-9 5l-2.500 2 .6-3.500a6 6 0 0 1-1.600-3.500z" fill="#a45fd0"/><path d="M76.500 34.500a6.300 5.800 0 1 1 4 5.500l-3 1.600.8-3a5.800 5.800 0 0 1-1.800-4.100z" fill="#2bb6e0"/>
  <rect x="8" y="57.200" width="48" height="1.600" fill="#2a4aa8" opacity=".85"/>
  <g fill="#6a6a6a" opacity=".75"><rect x="8" y="65.500" width="35" height="1.100"/><rect x="8" y="68.300" width="34" height="1.100"/><rect x="8" y="71.100" width="32" height="1.100"/><rect x="8" y="73.900" width="34" height="1.100"/><rect x="8" y="76.700" width="35" height="1.100"/><rect x="8" y="79.500" width="31" height="1.100"/><rect x="8" y="85.200" width="34" height="1.100"/><rect x="8" y="88" width="33" height="1.100"/><rect x="8" y="90.800" width="30" height="1.100"/></g>
  <rect x="49.400" y="64.700" width="44.800" height="31.900" fill="url(#ta2)"/><rect x="49.400" y="64.700" width="44.800" height="9" fill="#cfc6a8"/><rect x="62" y="76" width="22" height="12" fill="#4a4f52"/><path d="M49.400 96.600V78c1-7 5-12 10-12s9 4 9 9l-1 6c5 2 9 8 9 15.600z" fill="#7aa6d8"/><circle cx="61" cy="74" r="5.200" fill="#d9a07a"/><path d="M55 73c0-5 3-8 7-8 3 0 5 2 6 4-4 0-8 1-10 5l-2 6z" fill="#2a1f1a"/><rect x="81" y="82" width="12" height="12" fill="#c9d0d6" stroke="#777" stroke-width=".8" transform="rotate(8 87 88)"/>
  <rect x="8" y="106" width="22" height="1.400" fill="#2a4aa0"/><rect x="8" y="110" width="6.500" height="7" rx=".8" fill="#3b5998"/><text x="11.600" y="116.300" text-anchor="middle" font-family="Liberation Sans, sans-serif" font-weight="bold" font-size="6" fill="#fff">f</text>
  <g fill="#5a5a5a" opacity=".8"><rect x="16.500" y="110.700" width="39" height="1"/><rect x="16.500" y="113.200" width="38" height="1"/><rect x="16.500" y="115.700" width="28" height="1"/><rect x="66" y="113.600" width="16" height="1.200"/><rect x="66" y="116.200" width="13" height="1"/><rect x="66" y="121" width="12" height="1.200"/><rect x="66" y="123.400" width="16" height="1"/><rect x="66" y="125.800" width="19" height="1"/></g>
  <rect x="8" y="120.500" width="23" height="1.100" fill="#4a7ad0"/><rect x="8.500" y="124.500" width="11" height="3.200" rx="1" fill="#f8f8f8"/><rect x="23" y="124.500" width="12" height="3.200" rx="1" fill="#f8f8f8"/>
  <rect x="66" y="105.600" width="20" height="1.500" fill="#2a5aa8"/><circle cx="91" cy="106.500" r="2.600" fill="#fff" stroke="#d0202a" stroke-width="1.200" stroke-dasharray="1.400 1"/>
  <rect x="0" y="134" width="101.700" height="5.800" fill="#d2d2d2"/><rect x="3" y="136.200" width="31" height="1.100" fill="#8a8a8a"/>
</svg>
<svg class="a" style="left:127.800px;top:90.800px" width="101.700" height="139.800" viewBox="0 0 101.700 139.800">
  <defs><pattern id="tb1" width="7.400" height="7.400" patternUnits="userSpaceOnUse"><rect width="7.400" height="7.400" fill="#f6f8f0"/><rect width="3" height="7.400" fill="#bccb9c" opacity=".6"/><rect width="7.400" height="3" fill="#bccb9c" opacity=".6"/></pattern>
  <linearGradient id="tb2" x1="0" y1="0" x2="0" y2="1"><stop offset="0" stop-color="#6f9a38"/><stop offset=".6" stop-color="#4f8a24"/><stop offset="1" stop-color="#2f5a14"/></linearGradient>
  <radialGradient id="tb3" cx=".4" cy=".35" r=".7"><stop offset="0" stop-color="#fff"/><stop offset="1" stop-color="#bdbdbd"/></radialGradient></defs>
  <rect width="101.700" height="139.800" fill="url(#tb1)"/>
  <rect x="8" y="2" width="87.600" height="126.500" fill="#fdfdfd"/>
  <rect x="8" y="2" width="87.600" height="16.700" fill="url(#tb2)"/>
  <path d="M60 2h35.600v16.700H68c-5-3-8-9-8-16.700z" fill="#eee8dc"/><path d="M68 2.500h10l-1 4h-8zM82 14l6-2 4 3.500v3.200H83z" fill="#1a1a1a"/><path d="M92 2h3.600v3z" fill="#222"/>
  <rect x="8" y="19.500" width="87.600" height="4.500" fill="#ededed"/><rect x="11" y="21.200" width="16" height="1.200" fill="#8a8a8a"/>
  <g fill="#1f5a1f"><rect x="10.100" y="27.800" width="38.400" height="5.400"/><rect x="10.100" y="57.300" width="38.400" height="5.600"/><rect x="10.100" y="89.200" width="38.400" height="5.600"/></g>
  <g fill="#dcebd4" opacity=".4"><rect x="11.500" y="30" width="35" height="1.100"/><rect x="11.500" y="59.600" width="35" height="1.100"/><rect x="11.500" y="91.500" width="35" height="1.100"/></g>
  <g fill="#3a3a3a"><rect x="10.100" y="46" width="8.900" height="3.800" rx=".5"/><rect x="68" y="38.300" width="11" height="3.600" rx=".5"/><rect x="10.100" y="77.500" width="8.900" height="4.200" rx=".5"/><rect x="38" y="111.500" width="8.900" height="4" rx=".5"/></g>
  <g fill="#777" opacity=".8"><rect x="10.100" y="35.700" width="62" height="1"/><rect x="10.100" y="39.700" width="56" height="1"/><rect x="80.500" y="39.700" width="8" height="1"/><rect x="10.100" y="41.700" width="46" height="1"/><rect x="10.100" y="65.600" width="72" height="1"/><rect x="12.500" y="69.400" width="30" height="1"/><rect x="12.500" y="71.600" width="38" height="1"/><rect x="12.500" y="73.700" width="30" height="1"/><rect x="38" y="97.200" width="55" height="1"/><rect x="38" y="99.500" width="47" height="1"/><rect x="38" y="103.300" width="53" height="1"/><rect x="38" y="105.600" width="50" height="1"/><rect x="38" y="107.700" width="35" height="1"/><rect x="9.500" y="134" width="38" height=".8" opacity=".6"/></g>
  <ellipse cx="24" cy="122.800" rx="10" ry="1.800" fill="#bbb"/><ellipse cx="23.900" cy="110.400" rx="10.400" ry="12.500" fill="url(#tb3)" stroke="#8a8a8a" stroke-width=".4"/>
  <path d="M23.900 105.500l4 2.800-1.500 4.700h-5l-1.500-4.700zM14 106.500l2 4-2 5-0.500-4zM33.500 106l.8 5-2 4.500-.8-5zM19 118.500l4.800 1.500 4.800-1.500-1.500 3.500h-6.500z" fill="#1a1a1a"/>
  <rect x="11.600" y="124.500" width="25" height=".9" fill="#333"/>
</svg>
<svg class="a" style="left:248.600px;top:90.800px" width="102.200" height="139.800" viewBox="0 0 102.200 139.800">
  <defs><linearGradient id="tc1" x1="0" y1="0" x2="0" y2="1"><stop offset="0" stop-color="#22a0e6"/><stop offset=".35" stop-color="#1566c0"/><stop offset="1" stop-color="#0f4aa0"/></linearGradient>
  <linearGradient id="tc2" x1="0" y1="0" x2="1" y2="0"><stop offset="0" stop-color="#fdf6c8"/><stop offset=".4" stop-color="#fbe678"/><stop offset="1" stop-color="#f4d23a"/></linearGradient></defs>
  <rect width="102.200" height="139.800" fill="url(#tc1)"/>
  <rect x="3" y="5.200" width="96.200" height="129" fill="#fefefe"/>
  <rect x="3" y="5.200" width="96.200" height="8.400" fill="url(#tc2)"/>
  <text x="6.800" y="9.800" font-family="Liberation Sans, sans-serif" font-weight="bold" font-size="3.800" fill="#222">Email</text><rect x="6.800" y="10.600" width="28" height="1.700" fill="#8a8f6a" opacity=".8"/><rect x="42" y="9.200" width="50" height="1.500" fill="#8a7a2a" opacity=".8"/>
  <rect x="3" y="13.600" width="96.200" height="32.400" fill="#0c0c0c"/>
  <rect x="7" y="16.500" width="26" height="29.500" fill="#5c5c5c"/><rect x="11" y="19" width="18" height="1.600" fill="#222"/><rect x="11" y="22" width="18" height="1.600" fill="#222"/><rect x="11" y="25.500" width="18" height="5" fill="#1a1a1a"/>
  <rect x="35" y="17" width="23" height="13" fill="#6a1f38"/><rect x="38.500" y="19.500" width="16" height="1.300" fill="#c9a0b0"/><rect x="38.500" y="22" width="16" height="1.300" fill="#b08898"/>
  <g fill="#e9e9e9" opacity=".85"><rect x="63" y="17.500" width="22" height="1.500"/><rect x="63" y="20.300" width="23" height="1.500"/></g>
  <g fill="#a9a9a9" opacity=".7"><rect x="63" y="25" width="28" height="1"/><rect x="63" y="27.400" width="26" height="1"/><rect x="63" y="29.800" width="27" height="1"/><rect x="63" y="32.200" width="22" height="1"/><rect x="63" y="34.600" width="29" height="1"/><rect x="63" y="37" width="7" height="1"/></g>
  <rect x="63" y="40" width="22" height="4" rx="1.200" fill="#f4d23a"/><rect x="66" y="41.400" width="15" height="1.300" fill="#3a2a0a"/>
  <text x="6.500" y="46" font-family="Liberation Sans, sans-serif" font-weight="bold" font-size="20" fill="#fff" textLength="29" lengthAdjust="spacingAndGlyphs">15</text>
  <text x="36" y="41" font-family="Liberation Sans, sans-serif" font-size="11" fill="#fff">%</text>
  <text x="36.500" y="46.300" font-family="Liberation Sans, sans-serif" font-weight="bold" font-size="9" fill="#7fcdf0">Off</text>
  <rect x="9.800" y="50.900" width="37.200" height="13.800" fill="#4f5a52"/><path d="M9.800 56l14-5h14l-22 13.700h-6z" fill="#e8d890"/><path d="M14 58l20-6 4 2-20 8z" fill="#c0392b"/><path d="M22 62l18-7 3 2-15 7.700h-6z" fill="#7fbf4a"/><path d="M12 62l20-8" stroke="#fff" stroke-width="1.500"/>
  <rect x="55" y="50.900" width="36.900" height="13.800" fill="#0f2f1c"/><text x="63" y="62.500" font-family="Liberation Sans, sans-serif" font-weight="bold" font-size="6.500" fill="#f0641e" transform="rotate(-12 75 58)">03:04:33</text>
  <rect x="9.800" y="80" width="37.200" height="13.900" fill="#3a2a1c"/><text x="9.500" y="91.500" font-family="Liberation Sans, sans-serif" font-size="11.500" fill="#e0b44a" transform="rotate(-4 28 88)">brandy</text>
  <rect x="55" y="80" width="37" height="14" fill="#f2f2f2"/><g fill="#1a1a1a"><rect x="58" y="81.500" width="4" height="3.300"/><rect x="64.500" y="81" width="4" height="3.300"/><rect x="71" y="80.500" width="4" height="3.300"/><rect x="77.500" y="81.300" width="4" height="3.300"/><rect x="84" y="80.500" width="4" height="3.300"/><rect x="57" y="86.300" width="4" height="3.300"/><rect x="63.500" y="85.800" width="4" height="3.300"/><rect x="70" y="85.300" width="4" height="3.300"/><rect x="76.500" y="84.700" width="4" height="3.300"/><path d="M72 93.900l20-6v6z"/></g>
  <g fill="#3a3a3a"><rect x="9.800" y="66.800" width="27" height="1.200"/><rect x="55" y="66.800" width="27" height="1.200"/><rect x="9.800" y="95.800" width="27" height="1.200"/><rect x="55" y="95.800" width="27" height="1.200"/></g>
  <g fill="#9a9a9a" opacity=".75"><rect x="9.800" y="69" width="34" height="1"/><rect x="9.800" y="71.200" width="35" height="1"/><rect x="9.800" y="73.400" width="18" height="1"/><rect x="55" y="69" width="33" height="1"/><rect x="55" y="71.200" width="34" height="1"/><rect x="55" y="73.400" width="17" height="1"/><rect x="9.800" y="98" width="34" height="1"/><rect x="9.800" y="100.200" width="35" height="1"/><rect x="9.800" y="102.400" width="18" height="1"/><rect x="55" y="98" width="34" height="1"/><rect x="55" y="100.200" width="35" height="1"/><rect x="55" y="102.400" width="18" height="1"/><rect x="13" y="126.500" width="74" height="1"/><rect x="24" y="129.400" width="52" height="1"/></g>
  <g fill="#2a5ac0"><rect x="9.800" y="75.700" width="8" height="1"/><rect x="55" y="75.700" width="8" height="1"/><rect x="9.800" y="104.700" width="8" height="1"/><rect x="55" y="104.700" width="8" height="1"/></g>
  <text x="51" y="123.500" text-anchor="middle" font-family="Liberation Sans, sans-serif" font-weight="bold" font-size="18.500" fill="#f8d20a" stroke="#f8d20a" stroke-width="1.100" textLength="95" lengthAdjust="spacingAndGlyphs">15%Off</text>
  <text x="53.500" y="119" text-anchor="middle" font-family="Liberation Sans, sans-serif" font-weight="bold" font-size="4.800" fill="#1f3f8a">Don’t Miss It</text>
</svg>
<svg class="a" style="left:373.600px;top:90.800px" width="101" height="138" viewBox="-2.700 0 101 138">
  <defs><linearGradient id="td1" x1="0" y1="0" x2="0" y2="1"><stop offset="0" stop-color="#2a2a2a"/><stop offset=".25" stop-color="#1c1c1c"/><stop offset="1" stop-color="#202020"/></linearGradient></defs>
  <rect x="0" y="0" width="98.200" height="137.900" fill="url(#td1)"/>
  <path d="M-2.700 13h68l5.500 3.700-5.500 3.700h-68z" fill="#f47b20"/><path d="M-2.700 20.400l2.700 2.500v-2.500z" fill="#8a3f0a"/>
  <rect x="13" y="14.800" width="52" height="3" fill="#c8560c" opacity=".85"/>
  <text x="25" y="26" font-family="Liberation Sans, sans-serif" font-size="5.200" fill="#f4f4f4">Company<tspan fill="#f47b20">Name</tspan></text>
  <path d="M83.500 2c2-.8 3.500.5 3.500 2.500 0 1.300-.6 2.300-1.500 3 1.500 1.500 2.500 3.500 2.300 5.500 2 1.200 3.700 3 4.200 5-2 .3-4-.2-5.500-1.200.3 3 .2 6-.5 8.800-.5 2.800-.3 6 .3 8.700.5 1.200 0 2.200-1.500 2.300h-3c-1.200-.2-1.500-1-1-2 .7-3.300.8-7 .2-10.300-.5-2.200-.7-4.500-.3-6.700-1.300.5-2.700.5-4-.2 1.200-1.500 2.500-3 3-5 .3-1.800.8-3.500 1.700-5-.8-.8-1-2.200-.5-3.400.5-1 1.500-1.700 2.600-2z" fill="#fff"/><path d="M77.500 19.500c3-1.500 9-1.500 13.500 1-3.500 2.500-10 2.800-13.500-1z" fill="#fff"/>
  <g fill="#8a8a8a" opacity=".38"><rect x="18" y="41" width="28" height="1"/><rect x="7" y="46" width="50" height="1"/><rect x="4" y="48.500" width="56" height="1"/><rect x="3.500" y="51" width="57" height="1"/><rect x="9" y="53.500" width="46" height="1"/><rect x="4" y="56" width="56" height="1"/><rect x="6" y="58.500" width="52" height="1"/><rect x="10" y="61" width="44" height="1"/><rect x="23" y="84" width="70" height="1"/><rect x="27" y="86.500" width="62" height="1"/><rect x="23" y="89" width="70" height="1"/><rect x="27" y="91.500" width="62" height="1"/><rect x="23" y="115" width="70" height="1"/><rect x="27" y="117.500" width="62" height="1"/><rect x="23" y="120" width="70" height="1"/><rect x="27" y="122.500" width="62" height="1"/></g>
  <rect x="22" y="66" width="20" height="1.200" fill="#d8d8d8" opacity=".8"/><rect x="48" y="96.500" width="20" height="1.200" fill="#c0c0c0" opacity=".7"/><rect x="48" y="127.500" width="9" height="1.200" fill="#c0c0c0" opacity=".7"/><rect x="57" y="127.500" width="13" height="1.200" fill="#f47b20" opacity=".8"/>
  <g><rect x="69.500" y="47" width="4" height="4.500" fill="#3b5998"/><rect x="74.600" y="47" width="4" height="4.500" fill="#5ab0c8"/><rect x="79.700" y="47" width="4" height="4.500" fill="#7a9ac0"/><rect x="84.800" y="47" width="4" height="4.500" fill="#6aa88a"/><rect x="69.500" y="52.800" width="4" height="4.500" fill="#4a6ab0"/><rect x="74.600" y="52.800" width="4" height="4.500" fill="#d8d0e0"/><rect x="79.700" y="52.800" width="4" height="4.500" fill="#e8e0e8"/><rect x="84.800" y="52.800" width="4" height="4.500" fill="#5aa8d8"/></g>
  <path d="M28.500 70h35l5 3.500-5 3.500h-35z" fill="#f47b20"/><rect x="47" y="72.300" width="14" height="2" fill="#c8560c"/><path d="M-2.700 70h2.700v7h-2.700z" fill="#f47b20"/><path d="M-2.700 77l2.700 2.700v2.500h-2.700z" fill="#111"/>
  <path d="M28.500 101h35l5 3.500-5 3.500h-35z" fill="#f47b20"/><rect x="47" y="103.300" width="14" height="2" fill="#c8560c"/><path d="M-2.700 101h2.700v7h-2.700z" fill="#f47b20"/><path d="M-2.700 108l2.700 2.700v2.500h-2.700z" fill="#111"/>
  <rect x="4" y="82.800" width="14.300" height="15.700" fill="#e4ecf4"/><path d="M9 98.500c0-5 1-9 3-12 2 .5 3.500 3 3.500 6v6z" fill="#3a4a5a"/><circle cx="11" cy="88" r="2.800" fill="#d8a888"/><path d="M8.500 87c.5-3 2.500-4 4.500-3 1 1 1.500 3 1 5z" fill="#1a1a1a"/>
  <rect x="4" y="113.800" width="14.300" height="15.700" fill="#f4e0d8"/><circle cx="11.500" cy="120" r="4.500" fill="#e8b49a"/><path d="M5 114c3-1 8-1 12 1-3 1-7 2-11 2z" fill="#d89a5a"/><path d="M7 124c2 2 6 2 8 0l2 5.500H5z" fill="#f0a0b8"/>
  <rect x="0" y="131.500" width="98.200" height="6.400" fill="#3a3a3a"/><rect x="33" y="134.200" width="7" height="1.100" fill="#bdbdbd"/><rect x="40" y="134.200" width="30" height="1.100" fill="#c8783a"/>
</svg>
<svg class="a" style="left:496.700px;top:90.800px" width="100.900" height="138.900" viewBox="0 0 100.900 138.900">
  <defs><linearGradient id="te1" x1="0" y1="0" x2="1" y2="0"><stop offset="0" stop-color="#8cc418"/><stop offset=".55" stop-color="#94c81c"/><stop offset="1" stop-color="#a4d030"/></linearGradient></defs>
  <rect width="100.900" height="138.900" fill="#4a1f6e"/><rect width="100.900" height="2.600" fill="#0c0510"/><rect x="33" y="1" width="36" height="1" fill="#6a5a4a"/>
  <text x="10" y="8" font-family="Liberation Sans, sans-serif" font-weight="bold" font-size="3.800" fill="#f0e6f8">Email Title</text><rect x="10" y="9.300" width="20" height="1.400" fill="#d8c8e8" opacity=".85"/>
  <circle cx="75" cy="7.300" r="2.200" fill="#e8d8f4"/><rect x="79" y="5.600" width="12" height="1.200" fill="#c8b0e0"/><rect x="79" y="8" width="12" height="1.200" fill="#c8b0e0"/>
  <rect x="5.900" y="12.600" width="89" height="110" fill="#fefefe"/>
  <rect x="10.100" y="16" width="6" height=".9" fill="#d0a070"/>
  <rect x="10.100" y="19" width="52.800" height="16.400" fill="#d2d2d2"/><rect x="31" y="25.300" width="9" height="1.200" fill="#f8f8f8"/><rect x="30" y="28" width="11" height="1.200" fill="#f4f4f4"/>
  <rect x="65.600" y="30.300" width="25.100" height="11.600" fill="#d6d6d6"/><circle cx="78" cy="38.500" r="2.800" fill="#1a1a1a"/><circle cx="78" cy="38.500" r=".9" fill="#fff"/><rect x="72" y="31.800" width="12" height="1.200" fill="#f4f4f4"/>
  <rect x="10.100" y="71.500" width="20.200" height="17.200" fill="#d2d2d2"/><rect x="15" y="78.200" width="9" height="1.200" fill="#f4f4f4"/><rect x="14" y="80.800" width="11" height="1.200" fill="#f4f4f4"/>
  <g fill="#5a5a5a"><rect x="10.100" y="37.200" width="12.500" height="1.300"/><rect x="10.100" y="54.400" width="12.500" height="1.300"/><rect x="33" y="71.500" width="12" height="1.300"/><rect x="10.100" y="94" width="12.500" height="1.300"/><rect x="66" y="19.200" width="12.500" height="1.300"/><rect x="66" y="65.300" width="12.500" height="1.300"/><rect x="10.100" y="111.600" width="11" height="1.200"/><rect x="38" y="111.600" width="13" height="1.200"/></g>
  <g fill="#b0b0b0" opacity=".6"><rect x="10.100" y="40.500" width="45" height="1"/><rect x="10.100" y="42.800" width="51" height="1"/><rect x="10.100" y="45" width="33" height="1"/><rect x="10.100" y="47.200" width="8" height="1"/><rect x="10.100" y="57.700" width="45" height="1"/><rect x="10.100" y="60" width="51" height="1"/><rect x="10.100" y="62.200" width="33" height="1"/><rect x="10.100" y="64.400" width="8" height="1"/><rect x="33" y="75" width="22" height="1"/><rect x="33" y="77.200" width="25" height="1"/><rect x="33" y="79.400" width="28" height="1"/><rect x="33" y="81.600" width="29" height="1"/><rect x="33" y="83.800" width="22" height="1"/><rect x="33" y="86" width="8" height="1"/><rect x="10.100" y="97.400" width="45" height="1"/><rect x="10.100" y="99.600" width="51" height="1"/><rect x="10.100" y="101.800" width="34" height="1"/><rect x="10.100" y="104" width="8" height="1"/><rect x="66" y="22" width="21" height="1"/><rect x="66" y="24.200" width="24" height="1"/><rect x="66" y="26.400" width="25" height="1"/><rect x="66" y="28.600" width="6" height="1"/><rect x="66" y="68" width="12" height="1"/><rect x="66" y="70.200" width="21" height="1"/><rect x="66" y="72.400" width="24" height="1"/><rect x="66" y="74.600" width="7" height="1"/><rect x="66" y="78.500" width="12" height="1"/><rect x="66" y="80.700" width="21" height="1"/><rect x="66" y="82.900" width="24" height="1"/><rect x="66" y="85.100" width="7" height="1"/><rect x="66" y="89" width="12" height="1"/><rect x="66" y="91.200" width="21" height="1"/><rect x="66" y="93.400" width="24" height="1"/><rect x="66" y="95.600" width="7" height="1"/><rect x="10.100" y="114.200" width="9" height="1"/><rect x="10.100" y="116.200" width="7" height="1"/><rect x="38" y="114.200" width="4" height="1"/><rect x="38" y="116.200" width="5" height="1"/></g>
  <g fill="#6aaee0" opacity=".85"><rect x="66" y="46" width="7" height="1.100" fill="#4a6a9a"/><rect x="66" y="48.600" width="21" height="1.100"/><rect x="66" y="51.600" width="21" height="1.100"/><rect x="66" y="54.600" width="21" height="1.100"/><rect x="66" y="57.600" width="21" height="1.100"/><rect x="66" y="60.600" width="10" height="1.100"/></g>
  <rect x="5.900" y="108.900" width="89" height="13.700" fill="#f0f0f0"/>
  <g fill="#5a5a5a"><rect x="10.100" y="111.600" width="11" height="1.200"/><rect x="38" y="111.600" width="13" height="1.200"/></g>
  <rect x="65.600" y="110" width="6.300" height="5.800" rx=".8" fill="#3b5998"/><rect x="72.600" y="110" width="6.300" height="5.800" rx=".8" fill="#2aa9e0"/><rect x="79.600" y="110" width="6.300" height="5.800" rx=".8" fill="#6ac0d0"/>
  <rect x="5.900" y="122.600" width="89" height="14.300" fill="url(#te1)"/><circle cx="68" cy="129.500" r="7" fill="#a8d43a" opacity=".7"/><circle cx="82" cy="129.500" r="7.500" fill="#a8d43a" opacity=".7"/>
  <g fill="#d8eca0" opacity=".8"><rect x="10" y="125.500" width="36" height="1"/><rect x="10" y="127.700" width="26" height="1"/><rect x="10" y="129.900" width="15" height="1"/><rect x="10" y="132.100" width="25" height="1"/><rect x="10" y="134.300" width="10" height="1"/></g>
</svg>

</div>
<div class="wg" style="left:666.8px;top:1113.3px;width:613.2px;height:161px">
<div class="phd" style="height:25.7px"><span class="a" style="left:5.5px;top:5.7px;line-height:14px;font-size:11.200px">Last Five Lists Created</span></div>
<div class="gh" style="top:25.7px;height:20px">
<b style="left:6.9px;font-size:11.200px;line-height:20px">List Name</b>
<i style="left:354.9px"></i>
<b style="left:364.2px;font-size:11.200px;line-height:20px">Date/Time</b>
<i style="left:507.9px"></i>
<b style="left:517.9px;font-size:11.200px;line-height:20px">Created By</b>
</div>
<div class="gr gr2" style="top:46.3px;height:21.6px;line-height:20.4px">
<span style="left:6.9px;top:-0.8px;font-size:11.200px;white-space:pre">Elie’s Big List</span>
<i style="left:354.9px"></i>
<span style="left:364.5px;top:-0.8px;font-size:11.200px;white-space:pre">01/20/2014  02:17AM</span>
<i style="left:507.9px"></i>
<span style="left:518.5px;top:-0.8px;font-size:11.200px;white-space:pre">Elie Ashery</span>
</div>
<div class="gr gr2 alt" style="top:67.9px;height:22px;line-height:20.8px">
<span style="left:6.9px;top:0.4px;font-size:11.200px;white-space:pre">Michael’s Big List A</span>
<i style="left:354.9px"></i>
<span style="left:365.2px;top:0.4px;font-size:11.200px;white-space:pre">01/20/2014  02:17AM</span>
<i style="left:507.9px"></i>
<span style="left:519.5px;top:0.4px;font-size:11.200px;white-space:pre">Michael Weisel</span>
</div>
<div class="gr gr2" style="top:89.9px;height:22px;line-height:20.8px">
<span style="left:6.9px;top:1.6px;font-size:11.200px;white-space:pre">Michael’s Small List B</span>
<i style="left:354.9px"></i>
<span style="left:365.2px;top:1.6px;font-size:11.200px;white-space:pre">01/22/2014  04:17PM</span>
<i style="left:507.9px"></i>
<span style="left:519.5px;top:1.6px;font-size:11.200px;white-space:pre">Michael Weisel</span>
</div>
<div class="gr gr2 alt" style="top:111.9px;height:22.2px;line-height:21px">
<span style="left:6.9px;top:0.5px;font-size:11.200px;white-space:pre">Elie’s Big List B</span>
<i style="left:354.9px"></i>
<span style="left:365.2px;top:0.5px;font-size:11.200px;white-space:pre">01/23/2014  11:15AM</span>
<i style="left:507.9px"></i>
<span style="left:518.5px;top:0.5px;font-size:11.200px;white-space:pre">Elie Ashery</span>
</div>
<div class="gr gr2" style="top:134.1px;height:21.9px;line-height:20.7px">
<span style="left:6.9px;top:0.45px;font-size:11.200px;white-space:pre">Michael’s Big List C</span>
<i style="left:354.9px"></i>
<span style="left:366.9px;top:0.45px;font-size:11.200px;white-space:pre">01/20/2014  02:17AM</span>
<i style="left:507.9px"></i>
<span style="left:517.5px;top:0.45px;font-size:11.200px;white-space:pre">Michael Weisel</span>
</div>
</div>
<div class="wg" style="left:667.3px;top:1279.2px;width:612.7px;height:160.8px">
<div class="phd" style="height:25.6px"><span class="a" style="left:5.9px;top:5.8px;line-height:14px;font-size:11.200px">Last Campaigns Sent/Activated</span></div>
<div class="gh" style="top:25.6px;height:20px">
<b style="left:7.2px;font-size:11.200px;line-height:20px">Campaign Name</b>
<i style="left:223px"></i>
<b style="left:227.7px;font-size:11.200px;line-height:20px">Campaign Type</b>
<i style="left:361px"></i>
<b style="left:367.4px;font-size:11.200px;line-height:20px">Date/Time</b>
<i style="left:499px"></i>
<b style="left:506px;font-size:11.200px;line-height:20px">Created By</b>
</div>
<div class="gr gr2" style="top:46.2px;height:21.7px;line-height:20.5px">
<span style="left:7.2px;top:-0.45px;font-size:11.200px;white-space:pre">Elie’s Big Campaign</span>
<i style="left:223px"></i>
<span style="left:230.7px;top:-0.45px;font-size:11.200px;white-space:pre">Basic</span>
<i style="left:361px"></i>
<span style="left:368.7px;top:-0.45px;font-size:11.200px;white-space:pre">01/20/2014  02:17AM</span>
<i style="left:499px"></i>
<span style="left:508px;top:-0.45px;font-size:11.200px;white-space:pre">Elie Ashery</span>
</div>
<div class="gr gr2 alt" style="top:67.9px;height:22.3px;line-height:21.1px">
<span style="left:7.2px;top:0.55px;font-size:11.200px;white-space:pre">Michael’s Big Campaign</span>
<i style="left:223px"></i>
<span style="left:231.7px;top:0.55px;font-size:11.200px;white-space:pre">RSS</span>
<i style="left:361px"></i>
<span style="left:368.4px;top:0.55px;font-size:11.200px;white-space:pre">01/20/2014  02:17AM</span>
<i style="left:499px"></i>
<span style="left:507.4px;top:0.55px;font-size:11.200px;white-space:pre">Michael Weisel</span>
</div>
<div class="gr gr2" style="top:90.2px;height:21.8px;line-height:20.6px">
<span style="left:7.2px;top:1.3px;font-size:11.200px;white-space:pre">Michael’s Small Campaign</span>
<i style="left:223px"></i>
<span style="left:230.7px;top:1.3px;font-size:11.200px;white-space:pre">Drip</span>
<i style="left:361px"></i>
<span style="left:368.4px;top:1.3px;font-size:11.200px;white-space:pre">01/22/2014  04:17PM</span>
<i style="left:499px"></i>
<span style="left:507.4px;top:1.3px;font-size:11.200px;white-space:pre">Michael Weisel</span>
</div>
<div class="gr gr2 alt" style="top:112px;height:22px;line-height:20.8px">
<span style="left:7.2px;top:0.7px;font-size:11.200px;white-space:pre">Elie’s B Campaign</span>
<i style="left:223px"></i>
<span style="left:231.7px;top:0.7px;font-size:11.200px;white-space:pre">Basic</span>
<i style="left:361px"></i>
<span style="left:369.4px;top:0.7px;font-size:11.200px;white-space:pre">01/23/2014  11:15AM</span>
<i style="left:499px"></i>
<span style="left:508px;top:0.7px;font-size:11.200px;white-space:pre">Elie Ashery</span>
</div>
<div class="gr gr2" style="top:134px;height:21.9px;line-height:20.7px">
<span style="left:7.2px;top:0.45px;font-size:11.200px;white-space:pre">Michael’s C Campaig</span>
<i style="left:223px"></i>
<span style="left:230px;top:0.45px;font-size:11.200px;white-space:pre">Basic</span>
<i style="left:361px"></i>
<span style="left:368px;top:0.45px;font-size:11.200px;white-space:pre">01/20/2014  02:17AM</span>
<i style="left:499px"></i>
<span style="left:504px;top:0.45px;font-size:11.200px;white-space:pre">Michael Weisel</span>
</div>
</div>
</div><!-- /inner -->
</body>
</html>
